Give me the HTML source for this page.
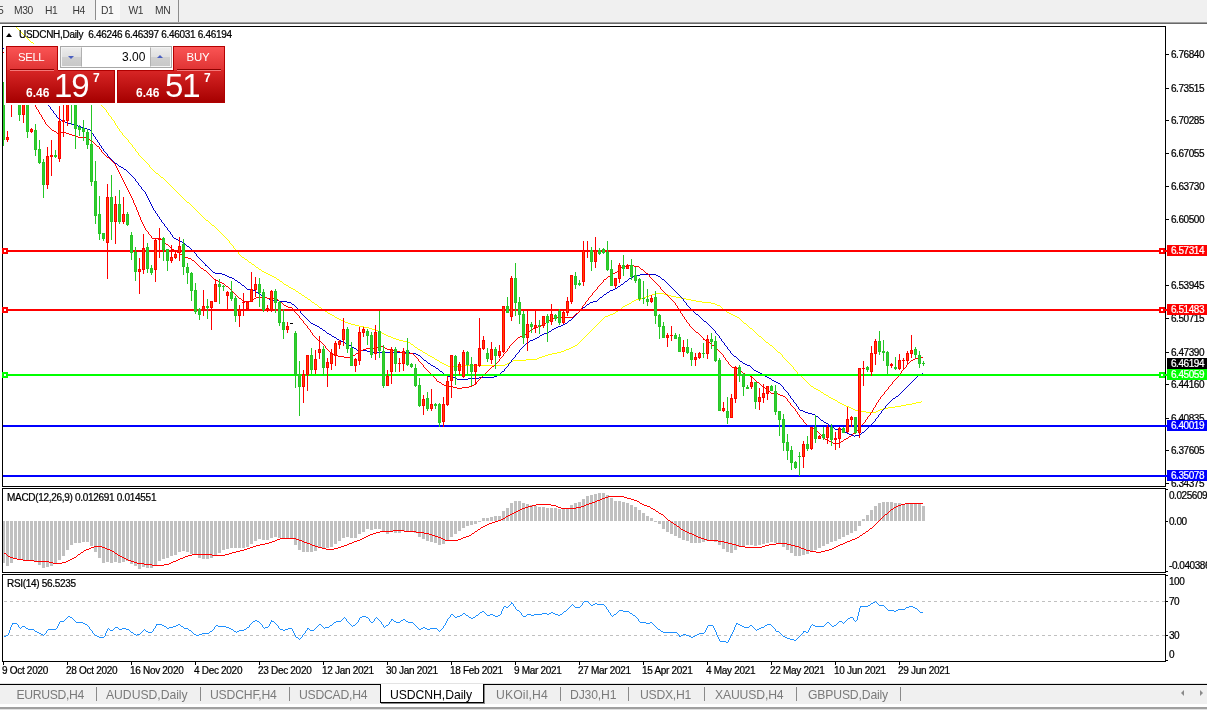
<!DOCTYPE html><html><head><meta charset="utf-8"><title>USDCNH,Daily</title><style>
*{box-sizing:border-box;margin:0;padding:0}
html,body{width:1207px;height:710px;overflow:hidden;background:#fff}
body{position:relative;font-family:"Liberation Sans",sans-serif;font-size:9.5px;color:#000}
.a{position:absolute}
.t{position:absolute;white-space:nowrap;line-height:12px;height:12px}
#tb{left:0;top:0;width:1207px;height:22px;background:#f0f0f0}
#tb .t{font-size:10.3px;letter-spacing:-0.45px;color:#383838;top:4.5px}
.tab{position:absolute;top:687px;height:16px;line-height:16px;font-size:12.2px;letter-spacing:-0.25px;color:#7a7a7a;white-space:nowrap}
.sep{position:absolute;top:687px;width:1px;height:14px;background:#8a8a8a}
.ax{position:absolute;left:1171px;font-size:10px;letter-spacing:-0.45px;line-height:12px;height:12px;white-space:nowrap}
.tick{position:absolute;left:1166px;width:3px;height:1px;background:#000}
.lbl{position:absolute;left:1167px;width:40px;height:11px;color:#fff;font-size:10px;letter-spacing:-0.45px;line-height:11px;padding-left:4px;white-space:nowrap}
.dt{position:absolute;top:665px;font-size:10px;letter-spacing:-0.3px;line-height:12px;white-space:nowrap}
.ax,.dt,.lbl,#ttl,#macdt,#rsit{-webkit-text-stroke:0.22px}
.dtick{position:absolute;top:662px;width:1px;height:3px;background:#000}
</style></head><body>
<div id="tb" class="a">
<div class="a" style="left:96px;top:0;width:24px;height:20px;background:#f8f8f8"></div>
<div class="a" style="left:95px;top:0;width:1px;height:20px;background:#8c8c8c"></div>
<div class="a" style="left:178px;top:0;width:1px;height:22px;background:#8c8c8c"></div>
<span class="t" style="left:-2px">5</span>
<span class="t" style="left:14px">M30</span>
<span class="t" style="left:45px">H1</span>
<span class="t" style="left:72.5px">H4</span>
<span class="t" style="left:101px">D1</span>
<span class="t" style="left:128.5px">W1</span>
<span class="t" style="left:155px">MN</span>
</div>
<div class="a" style="left:0;top:22px;width:1207px;height:1px;background:#a0a0a0"></div>
<div class="a" style="left:0;top:23px;width:1207px;height:1px;background:#696969"></div>
<div class="a" style="left:2px;top:26px;width:1164px;height:461px;border:1px solid #000"></div>
<div class="a" style="left:2px;top:488px;width:1164px;height:85px;border:1px solid #000"></div>
<div class="a" style="left:2px;top:574px;width:1164px;height:88px;border:1px solid #000"></div>
<svg class="a" style="left:0;top:0" width="1207" height="710" viewBox="0 0 1207 710">
<defs><clipPath id="cm"><rect x="3" y="27" width="1162" height="459"/></clipPath><clipPath id="c2"><rect x="3" y="489" width="1162" height="83"/></clipPath><clipPath id="c3"><rect x="3" y="575" width="1162" height="86"/></clipPath></defs>
<g clip-path="url(#cm)">
<path shape-rendering="crispEdges" fill="#ffff00" d="M14 26h1v1h-1zM15 26h1v1h-1zM16 27h1v1h-1zM17 28h1v1h-1zM18 29h1v1h-1zM19 30h1v1h-1zM20 31h1v1h-1zM21 32h1v1h-1zM22 33h1v1h-1zM23 34h1v1h-1zM24 35h1v1h-1zM25 36h1v1h-1zM26 37h1v1h-1zM27 38h1v1h-1zM28 39h1v1h-1zM29 40h1v1h-1zM30 41h1v1h-1zM31 42h1v1h-1zM32 42h1v1h-1zM33 43h1v1h-1zM34 44h1v1h-1zM35 45h1v1h-1zM36 46h1v1h-1zM37 47h1v1h-1zM38 48h1v1h-1zM39 49h1v1h-1zM40 50h1v1h-1zM41 51h1v1h-1zM42 52h1v1h-1zM43 53h1v1h-1zM44 53h1v1h-1zM45 54h1v1h-1zM46 55h1v1h-1zM47 56h1v1h-1zM48 57h1v1h-1zM49 58h1v1h-1zM50 59h1v1h-1zM51 60h1v1h-1zM52 61h1v1h-1zM53 62h1v1h-1zM54 63h1v1h-1zM55 63h1v1h-1zM56 64h1v1h-1zM57 65h1v1h-1zM58 66h1v1h-1zM59 67h1v1h-1zM60 68h1v1h-1zM61 69h1v1h-1zM62 70h1v1h-1zM63 71h1v1h-1zM64 72h1v1h-1zM65 73h1v1h-1zM66 74h1v1h-1zM67 74h1v1h-1zM68 75h1v1h-1zM69 76h1v1h-1zM70 77h1v1h-1zM71 78h1v1h-1zM72 79h1v1h-1zM73 80h1v1h-1zM74 81h1v1h-1zM75 82h1v1h-1zM76 83h1v1h-1zM77 83h1v1h-1zM78 84h1v1h-1zM79 85h1v1h-1zM80 86h1v1h-1zM81 87h1v1h-1zM82 88h1v1h-1zM83 89h1v1h-1zM84 90h1v1h-1zM85 91h1v1h-1zM86 92h1v1h-1zM87 93h1v1h-1zM88 93h1v1h-1zM89 94h1v1h-1zM90 95h1v1h-1zM91 96h1v1h-1zM92 97h1v1h-1zM93 98h1v1h-1zM94 99h1v1h-1zM95 100h1v1h-1zM96 101h1v1h-1zM97 102h1v1h-1zM98 103h1v1h-1zM99 103h1v1h-1zM100 104h1v1h-1zM101 105h1v1h-1zM102 106h1v1h-1zM103 107h1v1h-1zM104 108h1v1h-1zM105 109h1v1h-1zM106 110h1V112h-1zM107 112h1v1h-1zM108 113h1V115h-1zM109 115h1v1h-1zM110 116h1v1h-1zM111 117h1V119h-1zM112 119h1v1h-1zM113 120h1v1h-1zM114 121h1V123h-1zM115 123h1V125h-1zM116 125h1v1h-1zM117 126h1V128h-1zM118 128h1v1h-1zM119 129h1V131h-1zM120 131h1v1h-1zM121 132h1v1h-1zM122 133h1V135h-1zM123 135h1v1h-1zM124 136h1v1h-1zM125 137h1v1h-1zM126 138h1v1h-1zM127 139h1v1h-1zM128 140h1V142h-1zM129 142h1v1h-1zM130 143h1v1h-1zM131 144h1v1h-1zM132 145h1V147h-1zM133 147h1v1h-1zM134 148h1v1h-1zM135 149h1V151h-1zM136 151h1v1h-1zM137 152h1v1h-1zM138 153h1V155h-1zM139 155h1v1h-1zM140 156h1v1h-1zM141 157h1v1h-1zM142 158h1v1h-1zM143 159h1v1h-1zM144 160h1v1h-1zM145 161h1v1h-1zM146 162h1v1h-1zM147 163h1v1h-1zM148 164h1v1h-1zM149 165h1V167h-1zM150 167h1v1h-1zM151 168h1v1h-1zM152 169h1v1h-1zM153 170h1v1h-1zM154 171h1v1h-1zM155 172h1v1h-1zM156 173h1v1h-1zM157 173h1v1h-1zM158 174h1v1h-1zM159 175h1v1h-1zM160 176h1v1h-1zM161 177h1v1h-1zM162 177h1v1h-1zM163 178h1v1h-1zM164 179h1v1h-1zM165 180h1v1h-1zM166 181h1v1h-1zM167 182h1v1h-1zM168 183h1v1h-1zM169 184h1v1h-1zM170 185h1v1h-1zM171 186h1v1h-1zM172 187h1v1h-1zM173 188h1v1h-1zM174 189h1v1h-1zM175 190h1v1h-1zM176 191h1v1h-1zM177 192h1v1h-1zM178 193h1v1h-1zM179 194h1v1h-1zM180 195h1v1h-1zM181 196h1v1h-1zM182 197h1v1h-1zM183 198h1v1h-1zM184 199h1v1h-1zM185 200h1v1h-1zM186 201h1v1h-1zM187 202h1v1h-1zM188 202h1v1h-1zM189 203h1v1h-1zM190 204h1v1h-1zM191 205h1v1h-1zM192 206h1v1h-1zM193 207h1v1h-1zM194 208h1v1h-1zM195 209h1v1h-1zM196 210h1v1h-1zM197 211h1v1h-1zM198 212h1v1h-1zM199 213h1v1h-1zM200 214h1v1h-1zM201 215h1v1h-1zM202 216h1v1h-1zM203 217h1v1h-1zM204 218h1v1h-1zM205 219h1v1h-1zM206 220h1v1h-1zM207 220h1v1h-1zM208 221h1v1h-1zM209 222h1v1h-1zM210 223h1v1h-1zM211 224h1v1h-1zM212 225h1v1h-1zM213 225h1v1h-1zM214 226h1v1h-1zM215 227h1v1h-1zM216 228h1v1h-1zM217 229h1v1h-1zM218 230h1v1h-1zM219 231h1v1h-1zM220 232h1v1h-1zM221 233h1v1h-1zM222 234h1v1h-1zM223 235h1v1h-1zM224 236h1v1h-1zM225 237h1v1h-1zM226 238h1v1h-1zM227 239h1v1h-1zM228 240h1v1h-1zM229 241h1V243h-1zM230 243h1v1h-1zM231 244h1v1h-1zM232 245h1v1h-1zM233 246h1V248h-1zM234 248h1v1h-1zM235 249h1v1h-1zM236 250h1v1h-1zM237 251h1v1h-1zM238 252h1V254h-1zM239 254h1v1h-1zM240 255h1v1h-1zM241 256h1v1h-1zM242 257h1v1h-1zM243 257h1v1h-1zM244 258h1v1h-1zM245 259h1v1h-1zM246 259h1v1h-1zM247 260h1v1h-1zM248 261h1v1h-1zM249 262h1v1h-1zM250 262h1v1h-1zM251 263h1v1h-1zM252 264h1v1h-1zM253 264h1v1h-1zM254 265h1v1h-1zM255 266h1v1h-1zM256 267h1v1h-1zM257 267h1v1h-1zM258 268h1v1h-1zM259 269h1v1h-1zM260 269h1v1h-1zM261 270h1v1h-1zM262 271h1v1h-1zM263 271h1v1h-1zM264 272h1v1h-1zM265 272h1v1h-1zM266 273h1v1h-1zM267 273h1v1h-1zM268 274h1v1h-1zM269 274h1v1h-1zM270 275h1v1h-1zM271 275h1v1h-1zM272 276h1v1h-1zM273 276h1v1h-1zM274 277h1v1h-1zM275 277h1v1h-1zM276 278h1v1h-1zM277 279h1v1h-1zM278 279h1v1h-1zM279 280h1v1h-1zM280 281h1v1h-1zM281 281h1v1h-1zM282 282h1v1h-1zM283 283h1v1h-1zM284 284h1v1h-1zM285 284h1v1h-1zM286 285h1v1h-1zM287 285h1v1h-1zM288 286h1v1h-1zM289 287h1v1h-1zM290 287h1v1h-1zM291 288h1v1h-1zM292 288h1v1h-1zM293 289h1v1h-1zM294 289h1v1h-1zM295 290h1v1h-1zM296 291h1v1h-1zM297 291h1v1h-1zM298 292h1v1h-1zM299 293h1v1h-1zM300 293h1v1h-1zM301 294h1v1h-1zM302 295h1v1h-1zM303 295h1v1h-1zM304 296h1v1h-1zM305 297h1v1h-1zM306 297h1v1h-1zM307 298h1v1h-1zM308 299h1v1h-1zM309 299h1v1h-1zM310 300h1v1h-1zM311 301h1v1h-1zM312 302h1v1h-1zM313 302h1v1h-1zM314 303h1v1h-1zM315 304h1v1h-1zM316 304h1v1h-1zM317 305h1v1h-1zM318 306h1v1h-1zM319 307h1v1h-1zM320 307h1v1h-1zM321 308h1v1h-1zM322 309h1v1h-1zM323 310h1v1h-1zM324 310h1v1h-1zM325 311h1v1h-1zM326 311h1v1h-1zM327 312h1v1h-1zM328 313h1v1h-1zM329 313h1v1h-1zM330 314h1v1h-1zM331 314h1v1h-1zM332 315h1v1h-1zM333 315h1v1h-1zM334 316h1v1h-1zM335 317h1v1h-1zM336 317h1v1h-1zM337 318h1v1h-1zM338 318h1v1h-1zM339 319h1v1h-1zM340 319h1v1h-1zM341 320h1v1h-1zM342 320h1v1h-1zM343 321h1v1h-1zM344 321h1v1h-1zM345 322h1v1h-1zM346 322h1v1h-1zM347 322h1v1h-1zM348 323h1v1h-1zM349 323h1v1h-1zM350 323h1v1h-1zM351 324h1v1h-1zM352 324h1v1h-1zM353 324h1v1h-1zM354 324h1v1h-1zM355 325h1v1h-1zM356 325h1v1h-1zM357 325h1v1h-1zM358 325h1v1h-1zM359 326h1v1h-1zM360 326h1v1h-1zM361 326h1v1h-1zM362 326h1v1h-1zM363 326h1v1h-1zM364 327h1v1h-1zM365 327h1v1h-1zM366 327h1v1h-1zM367 327h1v1h-1zM368 327h1v1h-1zM369 328h1v1h-1zM370 328h1v1h-1zM371 328h1v1h-1zM372 329h1v1h-1zM373 329h1v1h-1zM374 329h1v1h-1zM375 330h1v1h-1zM376 330h1v1h-1zM377 330h1v1h-1zM378 331h1v1h-1zM379 331h1v1h-1zM380 332h1v1h-1zM381 332h1v1h-1zM382 333h1v1h-1zM383 333h1v1h-1zM384 334h1v1h-1zM385 334h1v1h-1zM386 335h1v1h-1zM387 335h1v1h-1zM388 336h1v1h-1zM389 336h1v1h-1zM390 336h1v1h-1zM391 337h1v1h-1zM392 337h1v1h-1zM393 338h1v1h-1zM394 338h1v1h-1zM395 338h1v1h-1zM396 339h1v1h-1zM397 339h1v1h-1zM398 339h1v1h-1zM399 340h1v1h-1zM400 340h1v1h-1zM401 340h1v1h-1zM402 340h1v1h-1zM403 341h1v1h-1zM404 341h1v1h-1zM405 341h1v1h-1zM406 341h1v1h-1zM407 342h1v1h-1zM408 342h1v1h-1zM409 342h1v1h-1zM410 343h1v1h-1zM411 344h1v1h-1zM412 344h1v1h-1zM413 345h1v1h-1zM414 346h1v1h-1zM415 347h1v1h-1zM416 347h1v1h-1zM417 348h1v1h-1zM418 349h1v1h-1zM419 349h1v1h-1zM420 350h1v1h-1zM421 350h1v1h-1zM422 351h1v1h-1zM423 352h1v1h-1zM424 352h1v1h-1zM425 353h1v1h-1zM426 353h1v1h-1zM427 354h1v1h-1zM428 355h1v1h-1zM429 355h1v1h-1zM430 356h1v1h-1zM431 356h1v1h-1zM432 357h1v1h-1zM433 357h1v1h-1zM434 358h1v1h-1zM435 359h1v1h-1zM436 359h1v1h-1zM437 360h1v1h-1zM438 360h1v1h-1zM439 361h1v1h-1zM440 362h1v1h-1zM441 362h1v1h-1zM442 363h1v1h-1zM443 363h1v1h-1zM444 364h1v1h-1zM445 364h1v1h-1zM446 365h1v1h-1zM447 365h1v1h-1zM448 366h1v1h-1zM449 366h1v1h-1zM450 366h1v1h-1zM451 366h1v1h-1zM452 366h1v1h-1zM453 366h1v1h-1zM454 366h1v1h-1zM455 366h1v1h-1zM456 366h1v1h-1zM457 366h1v1h-1zM458 366h1v1h-1zM459 366h1v1h-1zM460 366h1v1h-1zM461 366h1v1h-1zM462 366h1v1h-1zM463 365h1v1h-1zM464 365h1v1h-1zM465 365h1v1h-1zM466 365h1v1h-1zM467 365h1v1h-1zM468 365h1v1h-1zM469 365h1v1h-1zM470 365h1v1h-1zM471 365h1v1h-1zM472 365h1v1h-1zM473 365h1v1h-1zM474 365h1v1h-1zM475 365h1v1h-1zM476 365h1v1h-1zM477 365h1v1h-1zM478 365h1v1h-1zM479 365h1v1h-1zM480 365h1v1h-1zM481 365h1v1h-1zM482 365h1v1h-1zM483 365h1v1h-1zM484 365h1v1h-1zM485 365h1v1h-1zM486 365h1v1h-1zM487 365h1v1h-1zM488 365h1v1h-1zM489 365h1v1h-1zM490 365h1v1h-1zM491 365h1v1h-1zM492 365h1v1h-1zM493 365h1v1h-1zM494 365h1v1h-1zM495 365h1v1h-1zM496 365h1v1h-1zM497 365h1v1h-1zM498 365h1v1h-1zM499 365h1v1h-1zM500 365h1v1h-1zM501 365h1v1h-1zM502 365h1v1h-1zM503 365h1v1h-1zM504 365h1v1h-1zM505 364h1v1h-1zM506 364h1v1h-1zM507 363h1v1h-1zM508 363h1v1h-1zM509 362h1v1h-1zM510 362h1v1h-1zM511 361h1v1h-1zM512 361h1v1h-1zM513 360h1v1h-1zM514 360h1v1h-1zM515 360h1v1h-1zM516 360h1v1h-1zM517 360h1v1h-1zM518 360h1v1h-1zM519 360h1v1h-1zM520 360h1v1h-1zM521 360h1v1h-1zM522 360h1v1h-1zM523 360h1v1h-1zM524 360h1v1h-1zM525 360h1v1h-1zM526 359h1v1h-1zM527 359h1v1h-1zM528 359h1v1h-1zM529 359h1v1h-1zM530 359h1v1h-1zM531 359h1v1h-1zM532 359h1v1h-1zM533 359h1v1h-1zM534 359h1v1h-1zM535 359h1v1h-1zM536 359h1v1h-1zM537 358h1v1h-1zM538 358h1v1h-1zM539 357h1v1h-1zM540 357h1v1h-1zM541 357h1v1h-1zM542 356h1v1h-1zM543 356h1v1h-1zM544 356h1v1h-1zM545 355h1v1h-1zM546 355h1v1h-1zM547 355h1v1h-1zM548 354h1v1h-1zM549 354h1v1h-1zM550 354h1v1h-1zM551 354h1v1h-1zM552 353h1v1h-1zM553 353h1v1h-1zM554 353h1v1h-1zM555 353h1v1h-1zM556 353h1v1h-1zM557 352h1v1h-1zM558 352h1v1h-1zM559 352h1v1h-1zM560 352h1v1h-1zM561 351h1v1h-1zM562 351h1v1h-1zM563 351h1v1h-1zM564 350h1v1h-1zM565 350h1v1h-1zM566 349h1v1h-1zM567 349h1v1h-1zM568 349h1v1h-1zM569 348h1v1h-1zM570 348h1v1h-1zM571 347h1v1h-1zM572 347h1v1h-1zM573 346h1v1h-1zM574 346h1v1h-1zM575 345h1v1h-1zM576 345h1v1h-1zM577 344h1v1h-1zM578 343h1v1h-1zM579 342h1v1h-1zM580 341h1v1h-1zM581 340h1v1h-1zM582 339h1v1h-1zM583 338h1v1h-1zM584 337h1v1h-1zM585 336h1v1h-1zM586 335h1v1h-1zM587 334h1v1h-1zM588 333h1v1h-1zM589 332h1v1h-1zM590 331h1v1h-1zM591 330h1v1h-1zM592 329h1v1h-1zM593 328h1v1h-1zM594 327h1v1h-1zM595 326h1v1h-1zM596 325h1v1h-1zM597 324h1v1h-1zM598 323h1v1h-1zM599 322h1v1h-1zM600 321h1v1h-1zM601 320h1v1h-1zM602 319h1v1h-1zM603 318h1v1h-1zM604 317h1v1h-1zM605 316h1v1h-1zM606 316h1v1h-1zM607 316h1v1h-1zM608 315h1v1h-1zM609 315h1v1h-1zM610 314h1v1h-1zM611 314h1v1h-1zM612 314h1v1h-1zM613 313h1v1h-1zM614 313h1v1h-1zM615 312h1v1h-1zM616 311h1v1h-1zM617 311h1v1h-1zM618 310h1v1h-1zM619 309h1v1h-1zM620 309h1v1h-1zM621 308h1v1h-1zM622 307h1v1h-1zM623 306h1v1h-1zM624 306h1v1h-1zM625 305h1v1h-1zM626 305h1v1h-1zM627 304h1v1h-1zM628 304h1v1h-1zM629 303h1v1h-1zM630 303h1v1h-1zM631 302h1v1h-1zM632 301h1v1h-1zM633 301h1v1h-1zM634 300h1v1h-1zM635 300h1v1h-1zM636 299h1v1h-1zM637 299h1v1h-1zM638 299h1v1h-1zM639 299h1v1h-1zM640 299h1v1h-1zM641 298h1v1h-1zM642 298h1v1h-1zM643 297h1v1h-1zM644 297h1v1h-1zM645 297h1v1h-1zM646 296h1v1h-1zM647 296h1v1h-1zM648 296h1v1h-1zM649 295h1v1h-1zM650 295h1v1h-1zM651 295h1v1h-1zM652 294h1v1h-1zM653 294h1v1h-1zM654 294h1v1h-1zM655 294h1v1h-1zM656 293h1v1h-1zM657 293h1v1h-1zM658 293h1v1h-1zM659 293h1v1h-1zM660 293h1v1h-1zM661 293h1v1h-1zM662 293h1v1h-1zM663 293h1v1h-1zM664 294h1v1h-1zM665 294h1v1h-1zM666 294h1v1h-1zM667 294h1v1h-1zM668 295h1v1h-1zM669 295h1v1h-1zM670 295h1v1h-1zM671 296h1v1h-1zM672 296h1v1h-1zM673 296h1v1h-1zM674 296h1v1h-1zM675 296h1v1h-1zM676 297h1v1h-1zM677 297h1v1h-1zM678 297h1v1h-1zM679 297h1v1h-1zM680 297h1v1h-1zM681 298h1v1h-1zM682 298h1v1h-1zM683 298h1v1h-1zM684 298h1v1h-1zM685 298h1v1h-1zM686 299h1v1h-1zM687 299h1v1h-1zM688 299h1v1h-1zM689 299h1v1h-1zM690 299h1v1h-1zM691 300h1v1h-1zM692 300h1v1h-1zM693 300h1v1h-1zM694 300h1v1h-1zM695 300h1v1h-1zM696 301h1v1h-1zM697 301h1v1h-1zM698 301h1v1h-1zM699 301h1v1h-1zM700 301h1v1h-1zM701 301h1v1h-1zM702 302h1v1h-1zM703 302h1v1h-1zM704 302h1v1h-1zM705 302h1v1h-1zM706 302h1v1h-1zM707 302h1v1h-1zM708 302h1v1h-1zM709 302h1v1h-1zM710 302h1v1h-1zM711 303h1v1h-1zM712 303h1v1h-1zM713 303h1v1h-1zM714 303h1v1h-1zM715 304h1v1h-1zM716 304h1v1h-1zM717 305h1v1h-1zM718 305h1v1h-1zM719 305h1v1h-1zM720 306h1v1h-1zM721 307h1v1h-1zM722 308h1v1h-1zM723 309h1v1h-1zM724 309h1v1h-1zM725 310h1v1h-1zM726 311h1v1h-1zM727 312h1v1h-1zM728 312h1v1h-1zM729 313h1v1h-1zM730 313h1v1h-1zM731 314h1v1h-1zM732 314h1v1h-1zM733 315h1v1h-1zM734 315h1v1h-1zM735 316h1v1h-1zM736 316h1v1h-1zM737 317h1v1h-1zM738 317h1v1h-1zM739 318h1v1h-1zM740 319h1v1h-1zM741 320h1v1h-1zM742 321h1v1h-1zM743 322h1v1h-1zM744 323h1v1h-1zM745 323h1v1h-1zM746 324h1v1h-1zM747 325h1v1h-1zM748 326h1v1h-1zM749 327h1v1h-1zM750 328h1v1h-1zM751 328h1v1h-1zM752 329h1v1h-1zM753 330h1v1h-1zM754 331h1v1h-1zM755 332h1v1h-1zM756 333h1v1h-1zM757 334h1v1h-1zM758 335h1v1h-1zM759 336h1v1h-1zM760 336h1v1h-1zM761 337h1v1h-1zM762 338h1v1h-1zM763 339h1v1h-1zM764 340h1v1h-1zM765 341h1v1h-1zM766 342h1v1h-1zM767 342h1v1h-1zM768 343h1v1h-1zM769 344h1v1h-1zM770 345h1v1h-1zM771 345h1v1h-1zM772 346h1v1h-1zM773 347h1v1h-1zM774 348h1v1h-1zM775 349h1v1h-1zM776 350h1v1h-1zM777 351h1v1h-1zM778 352h1v1h-1zM779 352h1v1h-1zM780 353h1v1h-1zM781 354h1v1h-1zM782 355h1V357h-1zM783 357h1v1h-1zM784 358h1v1h-1zM785 359h1v1h-1zM786 360h1v1h-1zM787 361h1v1h-1zM788 362h1v1h-1zM789 363h1v1h-1zM790 364h1v1h-1zM791 365h1v1h-1zM792 366h1v1h-1zM793 367h1V369h-1zM794 369h1v1h-1zM795 370h1v1h-1zM796 371h1v1h-1zM797 372h1V374h-1zM798 374h1v1h-1zM799 374h1v1h-1zM800 375h1v1h-1zM801 376h1v1h-1zM802 377h1v1h-1zM803 378h1v1h-1zM804 379h1v1h-1zM805 380h1v1h-1zM806 381h1v1h-1zM807 382h1v1h-1zM808 383h1v1h-1zM809 384h1v1h-1zM810 385h1v1h-1zM811 386h1v1h-1zM812 386h1v1h-1zM813 387h1v1h-1zM814 388h1v1h-1zM815 388h1v1h-1zM816 389h1v1h-1zM817 389h1v1h-1zM818 390h1v1h-1zM819 390h1v1h-1zM820 391h1v1h-1zM821 392h1v1h-1zM822 392h1v1h-1zM823 393h1v1h-1zM824 394h1v1h-1zM825 394h1v1h-1zM826 395h1v1h-1zM827 395h1v1h-1zM828 396h1v1h-1zM829 397h1v1h-1zM830 397h1v1h-1zM831 398h1v1h-1zM832 398h1v1h-1zM833 399h1v1h-1zM834 399h1v1h-1zM835 400h1v1h-1zM836 400h1v1h-1zM837 401h1v1h-1zM838 402h1v1h-1zM839 402h1v1h-1zM840 403h1v1h-1zM841 403h1v1h-1zM842 404h1v1h-1zM843 404h1v1h-1zM844 405h1v1h-1zM845 405h1v1h-1zM846 406h1v1h-1zM847 406h1v1h-1zM848 406h1v1h-1zM849 407h1v1h-1zM850 407h1v1h-1zM851 408h1v1h-1zM852 408h1v1h-1zM853 409h1v1h-1zM854 409h1v1h-1zM855 410h1v1h-1zM856 410h1v1h-1zM857 410h1v1h-1zM858 410h1v1h-1zM859 410h1v1h-1zM860 411h1v1h-1zM861 411h1v1h-1zM862 411h1v1h-1zM863 411h1v1h-1zM864 411h1v1h-1zM865 411h1v1h-1zM866 412h1v1h-1zM867 412h1v1h-1zM868 412h1v1h-1zM869 412h1v1h-1zM870 412h1v1h-1zM871 412h1v1h-1zM872 412h1v1h-1zM873 412h1v1h-1zM874 412h1v1h-1zM875 412h1v1h-1zM876 411h1v1h-1zM877 411h1v1h-1zM878 410h1v1h-1zM879 410h1v1h-1zM880 409h1v1h-1zM881 409h1v1h-1zM882 409h1v1h-1zM883 408h1v1h-1zM884 408h1v1h-1zM885 408h1v1h-1zM886 408h1v1h-1zM887 408h1v1h-1zM888 407h1v1h-1zM889 407h1v1h-1zM890 407h1v1h-1zM891 407h1v1h-1zM892 407h1v1h-1zM893 407h1v1h-1zM894 407h1v1h-1zM895 406h1v1h-1zM896 406h1v1h-1zM897 406h1v1h-1zM898 406h1v1h-1zM899 406h1v1h-1zM900 406h1v1h-1zM901 405h1v1h-1zM902 405h1v1h-1zM903 405h1v1h-1zM904 405h1v1h-1zM905 405h1v1h-1zM906 404h1v1h-1zM907 404h1v1h-1zM908 404h1v1h-1zM909 404h1v1h-1zM910 404h1v1h-1zM911 404h1v1h-1zM912 403h1v1h-1zM913 403h1v1h-1zM914 403h1v1h-1zM915 403h1v1h-1zM916 402h1v1h-1zM917 402h1v1h-1zM918 402h1v1h-1zM919 402h1v1h-1zM920 402h1v1h-1zM921 401h1v1h-1z"/>
<path shape-rendering="crispEdges" fill="#0000cd" d="M3 48h1v1h-1zM4 49h1v1h-1zM5 50h1v1h-1zM6 51h1V53h-1zM7 53h1v1h-1zM8 54h1v1h-1zM9 55h1v1h-1zM10 56h1v1h-1zM11 57h1V59h-1zM12 59h1v1h-1zM13 60h1v1h-1zM14 61h1v1h-1zM15 62h1v1h-1zM16 63h1V65h-1zM17 65h1v1h-1zM18 66h1v1h-1zM19 67h1v1h-1zM20 68h1v1h-1zM21 69h1V71h-1zM22 71h1v1h-1zM23 72h1v1h-1zM24 73h1v1h-1zM25 74h1v1h-1zM26 75h1V77h-1zM27 77h1v1h-1zM28 78h1v1h-1zM29 79h1V81h-1zM30 81h1v1h-1zM31 82h1v1h-1zM32 83h1V85h-1zM33 85h1v1h-1zM34 86h1v1h-1zM35 87h1V89h-1zM36 89h1v1h-1zM37 90h1v1h-1zM38 91h1V93h-1zM39 93h1v1h-1zM40 94h1v1h-1zM41 95h1V97h-1zM42 97h1v1h-1zM43 98h1v1h-1zM44 99h1V101h-1zM45 101h1v1h-1zM46 102h1v1h-1zM47 103h1V105h-1zM48 105h1v1h-1zM49 106h1v1h-1zM50 107h1V109h-1zM51 109h1v1h-1zM52 110h1v1h-1zM53 111h1V113h-1zM54 113h1v1h-1zM55 114h1v1h-1zM56 115h1V117h-1zM57 117h1v1h-1zM58 118h1v1h-1zM59 119h1v1h-1zM60 119h1v1h-1zM61 120h1v1h-1zM62 120h1v1h-1zM63 121h1v1h-1zM64 121h1v1h-1zM65 122h1v1h-1zM66 122h1v1h-1zM67 123h1v1h-1zM68 123h1v1h-1zM69 123h1v1h-1zM70 123h1v1h-1zM71 124h1v1h-1zM72 124h1v1h-1zM73 124h1v1h-1zM74 124h1v1h-1zM75 125h1v1h-1zM76 125h1v1h-1zM77 125h1v1h-1zM78 126h1v1h-1zM79 126h1v1h-1zM80 126h1v1h-1zM81 127h1v1h-1zM82 127h1v1h-1zM83 127h1v1h-1zM84 128h1v1h-1zM85 128h1v1h-1zM86 128h1v1h-1zM87 129h1v1h-1zM88 129h1v1h-1zM89 129h1v1h-1zM90 130h1v1h-1zM91 131h1V133h-1zM92 133h1v1h-1zM93 134h1V136h-1zM94 136h1v1h-1zM95 137h1V139h-1zM96 139h1v1h-1zM97 140h1V142h-1zM98 142h1v1h-1zM99 143h1V145h-1zM100 145h1v1h-1zM101 146h1V148h-1zM102 148h1v1h-1zM103 149h1V151h-1zM104 151h1v1h-1zM105 152h1v1h-1zM106 153h1v1h-1zM107 154h1V156h-1zM108 156h1v1h-1zM109 157h1v1h-1zM110 158h1v1h-1zM111 159h1v1h-1zM112 160h1v1h-1zM113 161h1v1h-1zM114 162h1v1h-1zM115 163h1v1h-1zM116 163h1v1h-1zM117 164h1v1h-1zM118 165h1v1h-1zM119 166h1v1h-1zM120 166h1v1h-1zM121 167h1v1h-1zM122 167h1v1h-1zM123 168h1v1h-1zM124 169h1v1h-1zM125 169h1v1h-1zM126 170h1v1h-1zM127 171h1v1h-1zM128 172h1v1h-1zM129 173h1v1h-1zM130 174h1v1h-1zM131 175h1v1h-1zM132 176h1v1h-1zM133 177h1v1h-1zM134 178h1v1h-1zM135 179h1V181h-1zM136 181h1v1h-1zM137 182h1v1h-1zM138 183h1V185h-1zM139 185h1v1h-1zM140 186h1v1h-1zM141 187h1V189h-1zM142 189h1v1h-1zM143 190h1v1h-1zM144 191h1v1h-1zM145 192h1V194h-1zM146 194h1V196h-1zM147 196h1V198h-1zM148 198h1V200h-1zM149 200h1V202h-1zM150 202h1V204h-1zM151 204h1V206h-1zM152 206h1V208h-1zM153 208h1V210h-1zM154 210h1v1h-1zM155 211h1V213h-1zM156 213h1v1h-1zM157 214h1V216h-1zM158 216h1v1h-1zM159 217h1V219h-1zM160 219h1v1h-1zM161 220h1V222h-1zM162 222h1v1h-1zM163 223h1v1h-1zM164 224h1V226h-1zM165 226h1v1h-1zM166 227h1v1h-1zM167 228h1V230h-1zM168 230h1v1h-1zM169 231h1v1h-1zM170 232h1V234h-1zM171 234h1v1h-1zM172 235h1V237h-1zM173 237h1v1h-1zM174 238h1v1h-1zM175 238h1v1h-1zM176 239h1v1h-1zM177 239h1v1h-1zM178 240h1v1h-1zM179 240h1v1h-1zM180 241h1v1h-1zM181 241h1v1h-1zM182 242h1v1h-1zM183 242h1v1h-1zM184 243h1v1h-1zM185 244h1v1h-1zM186 245h1v1h-1zM187 246h1v1h-1zM188 246h1v1h-1zM189 247h1v1h-1zM190 248h1v1h-1zM191 249h1v1h-1zM192 250h1v1h-1zM193 251h1v1h-1zM194 252h1v1h-1zM195 253h1v1h-1zM196 254h1V256h-1zM197 256h1v1h-1zM198 257h1v1h-1zM199 258h1v1h-1zM200 259h1v1h-1zM201 260h1v1h-1zM202 261h1v1h-1zM203 262h1v1h-1zM204 263h1v1h-1zM205 264h1V266h-1zM206 265h1v1h-1zM207 266h1v1h-1zM208 267h1v1h-1zM209 268h1v1h-1zM210 269h1v1h-1zM211 270h1v1h-1zM212 271h1v1h-1zM213 272h1v1h-1zM214 272h1v1h-1zM215 273h1v1h-1zM216 273h1v1h-1zM217 273h1v1h-1zM218 273h1v1h-1zM219 273h1v1h-1zM220 273h1v1h-1zM221 273h1v1h-1zM222 274h1v1h-1zM223 274h1v1h-1zM224 274h1v1h-1zM225 275h1v1h-1zM226 275h1v1h-1zM227 276h1v1h-1zM228 276h1v1h-1zM229 277h1v1h-1zM230 277h1v1h-1zM231 277h1v1h-1zM232 278h1v1h-1zM233 278h1v1h-1zM234 279h1v1h-1zM235 280h1v1h-1zM236 280h1v1h-1zM237 281h1v1h-1zM238 282h1v1h-1zM239 282h1v1h-1zM240 283h1v1h-1zM241 284h1v1h-1zM242 285h1v1h-1zM243 285h1v1h-1zM244 286h1v1h-1zM245 287h1v1h-1zM246 288h1v1h-1zM247 289h1v1h-1zM248 289h1v1h-1zM249 289h1v1h-1zM250 289h1v1h-1zM251 289h1v1h-1zM252 289h1v1h-1zM253 290h1v1h-1zM254 290h1v1h-1zM255 291h1v1h-1zM256 292h1v1h-1zM257 292h1v1h-1zM258 293h1v1h-1zM259 293h1v1h-1zM260 294h1v1h-1zM261 295h1v1h-1zM262 295h1v1h-1zM263 296h1v1h-1zM264 296h1v1h-1zM265 297h1v1h-1zM266 297h1v1h-1zM267 298h1v1h-1zM268 298h1v1h-1zM269 299h1v1h-1zM270 299h1v1h-1zM271 299h1v1h-1zM272 299h1v1h-1zM273 300h1v1h-1zM274 300h1v1h-1zM275 300h1v1h-1zM276 300h1v1h-1zM277 300h1v1h-1zM278 300h1v1h-1zM279 301h1v1h-1zM280 301h1v1h-1zM281 301h1v1h-1zM282 301h1v1h-1zM283 301h1v1h-1zM284 301h1v1h-1zM285 301h1v1h-1zM286 301h1v1h-1zM287 302h1v1h-1zM288 302h1v1h-1zM289 302h1v1h-1zM290 302h1v1h-1zM291 303h1v1h-1zM292 304h1v1h-1zM293 304h1v1h-1zM294 305h1v1h-1zM295 306h1v1h-1zM296 307h1v1h-1zM297 308h1v1h-1zM298 309h1v1h-1zM299 310h1v1h-1zM300 311h1V313h-1zM301 313h1v1h-1zM302 314h1v1h-1zM303 315h1v1h-1zM304 316h1v1h-1zM305 317h1v1h-1zM306 318h1v1h-1zM307 319h1v1h-1zM308 320h1v1h-1zM309 321h1v1h-1zM310 322h1v1h-1zM311 323h1v1h-1zM312 323h1v1h-1zM313 324h1v1h-1zM314 324h1v1h-1zM315 325h1v1h-1zM316 325h1v1h-1zM317 326h1v1h-1zM318 326h1v1h-1zM319 327h1v1h-1zM320 328h1v1h-1zM321 328h1v1h-1zM322 329h1v1h-1zM323 330h1v1h-1zM324 330h1v1h-1zM325 331h1v1h-1zM326 332h1v1h-1zM327 333h1v1h-1zM328 333h1v1h-1zM329 334h1v1h-1zM330 334h1v1h-1zM331 335h1v1h-1zM332 336h1v1h-1zM333 336h1v1h-1zM334 337h1v1h-1zM335 337h1v1h-1zM336 338h1v1h-1zM337 339h1v1h-1zM338 339h1v1h-1zM339 340h1v1h-1zM340 340h1v1h-1zM341 341h1v1h-1zM342 341h1v1h-1zM343 342h1v1h-1zM344 342h1v1h-1zM345 343h1v1h-1zM346 343h1v1h-1zM347 344h1v1h-1zM348 344h1v1h-1zM349 345h1v1h-1zM350 345h1v1h-1zM351 346h1v1h-1zM352 347h1v1h-1zM353 347h1v1h-1zM354 348h1v1h-1zM355 348h1v1h-1zM356 349h1v1h-1zM357 350h1v1h-1zM358 350h1v1h-1zM359 350h1v1h-1zM360 350h1v1h-1zM361 350h1v1h-1zM362 350h1v1h-1zM363 350h1v1h-1zM364 350h1v1h-1zM365 350h1v1h-1zM366 350h1v1h-1zM367 351h1v1h-1zM368 351h1v1h-1zM369 351h1v1h-1zM370 351h1v1h-1zM371 351h1v1h-1zM372 352h1v1h-1zM373 352h1v1h-1zM374 352h1v1h-1zM375 352h1v1h-1zM376 352h1v1h-1zM377 352h1v1h-1zM378 352h1v1h-1zM379 352h1v1h-1zM380 352h1v1h-1zM381 352h1v1h-1zM382 352h1v1h-1zM383 352h1v1h-1zM384 352h1v1h-1zM385 352h1v1h-1zM386 352h1v1h-1zM387 352h1v1h-1zM388 352h1v1h-1zM389 352h1v1h-1zM390 352h1v1h-1zM391 352h1v1h-1zM392 352h1v1h-1zM393 352h1v1h-1zM394 352h1v1h-1zM395 352h1v1h-1zM396 352h1v1h-1zM397 352h1v1h-1zM398 352h1v1h-1zM399 352h1v1h-1zM400 352h1v1h-1zM401 352h1v1h-1zM402 352h1v1h-1zM403 352h1v1h-1zM404 352h1v1h-1zM405 352h1v1h-1zM406 352h1v1h-1zM407 352h1v1h-1zM408 352h1v1h-1zM409 352h1v1h-1zM410 353h1v1h-1zM411 353h1v1h-1zM412 353h1v1h-1zM413 353h1v1h-1zM414 353h1v1h-1zM415 353h1v1h-1zM416 354h1v1h-1zM417 354h1v1h-1zM418 355h1v1h-1zM419 355h1v1h-1zM420 356h1v1h-1zM421 357h1v1h-1zM422 358h1v1h-1zM423 359h1v1h-1zM424 360h1v1h-1zM425 360h1v1h-1zM426 361h1v1h-1zM427 362h1v1h-1zM428 363h1v1h-1zM429 363h1v1h-1zM430 364h1v1h-1zM431 365h1v1h-1zM432 365h1v1h-1zM433 366h1v1h-1zM434 366h1v1h-1zM435 367h1v1h-1zM436 368h1v1h-1zM437 368h1v1h-1zM438 369h1v1h-1zM439 370h1v1h-1zM440 371h1v1h-1zM441 371h1v1h-1zM442 372h1v1h-1zM443 373h1v1h-1zM444 374h1v1h-1zM445 375h1v1h-1zM446 375h1v1h-1zM447 376h1v1h-1zM448 376h1v1h-1zM449 376h1v1h-1zM450 376h1v1h-1zM451 376h1v1h-1zM452 376h1v1h-1zM453 377h1v1h-1zM454 377h1v1h-1zM455 378h1v1h-1zM456 378h1v1h-1zM457 379h1v1h-1zM458 379h1v1h-1zM459 379h1v1h-1zM460 379h1v1h-1zM461 379h1v1h-1zM462 379h1v1h-1zM463 379h1v1h-1zM464 379h1v1h-1zM465 379h1v1h-1zM466 379h1v1h-1zM467 379h1v1h-1zM468 378h1v1h-1zM469 378h1v1h-1zM470 378h1v1h-1zM471 378h1v1h-1zM472 378h1v1h-1zM473 378h1v1h-1zM474 378h1v1h-1zM475 378h1v1h-1zM476 378h1v1h-1zM477 378h1v1h-1zM478 378h1v1h-1zM479 377h1v1h-1zM480 377h1v1h-1zM481 377h1v1h-1zM482 377h1v1h-1zM483 377h1v1h-1zM484 377h1v1h-1zM485 377h1v1h-1zM486 377h1v1h-1zM487 377h1v1h-1zM488 377h1v1h-1zM489 377h1v1h-1zM490 377h1v1h-1zM491 377h1v1h-1zM492 377h1v1h-1zM493 377h1v1h-1zM494 376h1v1h-1zM495 376h1v1h-1zM496 376h1v1h-1zM497 375h1v1h-1zM498 374h1v1h-1zM499 374h1v1h-1zM500 373h1v1h-1zM501 372h1v1h-1zM502 371h1v1h-1zM503 371h1v1h-1zM504 369h1V371h-1zM505 368h1v1h-1zM506 367h1v1h-1zM507 366h1v1h-1zM508 364h1V366h-1zM509 363h1v1h-1zM510 362h1v1h-1zM511 360h1V362h-1zM512 359h1v1h-1zM513 358h1v1h-1zM514 357h1v1h-1zM515 355h1V357h-1zM516 354h1v1h-1zM517 353h1v1h-1zM518 352h1v1h-1zM519 350h1V352h-1zM520 349h1v1h-1zM521 348h1v1h-1zM522 347h1v1h-1zM523 346h1v1h-1zM524 345h1v1h-1zM525 344h1v1h-1zM526 343h1v1h-1zM527 342h1v1h-1zM528 342h1v1h-1zM529 341h1v1h-1zM530 340h1v1h-1zM531 340h1v1h-1zM532 340h1v1h-1zM533 339h1v1h-1zM534 339h1v1h-1zM535 338h1v1h-1zM536 338h1v1h-1zM537 337h1v1h-1zM538 337h1v1h-1zM539 336h1v1h-1zM540 335h1v1h-1zM541 335h1v1h-1zM542 334h1v1h-1zM543 334h1v1h-1zM544 333h1v1h-1zM545 333h1v1h-1zM546 333h1v1h-1zM547 332h1v1h-1zM548 332h1v1h-1zM549 331h1v1h-1zM550 331h1v1h-1zM551 330h1v1h-1zM552 329h1v1h-1zM553 329h1v1h-1zM554 328h1v1h-1zM555 328h1v1h-1zM556 327h1v1h-1zM557 327h1v1h-1zM558 326h1v1h-1zM559 326h1v1h-1zM560 326h1v1h-1zM561 325h1v1h-1zM562 325h1v1h-1zM563 324h1v1h-1zM564 324h1v1h-1zM565 323h1v1h-1zM566 323h1v1h-1zM567 322h1v1h-1zM568 321h1v1h-1zM569 320h1v1h-1zM570 320h1v1h-1zM571 319h1v1h-1zM572 318h1v1h-1zM573 317h1v1h-1zM574 316h1v1h-1zM575 315h1v1h-1zM576 314h1v1h-1zM577 313h1v1h-1zM578 312h1v1h-1zM579 311h1v1h-1zM580 310h1v1h-1zM581 309h1v1h-1zM582 308h1v1h-1zM583 307h1v1h-1zM584 307h1v1h-1zM585 306h1v1h-1zM586 305h1v1h-1zM587 304h1v1h-1zM588 304h1v1h-1zM589 303h1v1h-1zM590 302h1v1h-1zM591 302h1v1h-1zM592 302h1v1h-1zM593 301h1v1h-1zM594 301h1v1h-1zM595 301h1v1h-1zM596 301h1v1h-1zM597 300h1v1h-1zM598 299h1v1h-1zM599 298h1v1h-1zM600 297h1v1h-1zM601 297h1v1h-1zM602 296h1v1h-1zM603 295h1v1h-1zM604 294h1v1h-1zM605 294h1v1h-1zM606 293h1v1h-1zM607 292h1v1h-1zM608 292h1v1h-1zM609 291h1v1h-1zM610 290h1v1h-1zM611 290h1v1h-1zM612 290h1v1h-1zM613 289h1v1h-1zM614 289h1v1h-1zM615 288h1v1h-1zM616 288h1v1h-1zM617 287h1v1h-1zM618 286h1v1h-1zM619 286h1v1h-1zM620 285h1v1h-1zM621 284h1v1h-1zM622 284h1v1h-1zM623 283h1v1h-1zM624 282h1v1h-1zM625 281h1v1h-1zM626 281h1v1h-1zM627 280h1v1h-1zM628 279h1v1h-1zM629 278h1v1h-1zM630 278h1v1h-1zM631 277h1v1h-1zM632 277h1v1h-1zM633 276h1v1h-1zM634 276h1v1h-1zM635 276h1v1h-1zM636 275h1v1h-1zM637 275h1v1h-1zM638 275h1v1h-1zM639 275h1v1h-1zM640 274h1v1h-1zM641 274h1v1h-1zM642 274h1v1h-1zM643 274h1v1h-1zM644 274h1v1h-1zM645 274h1v1h-1zM646 274h1v1h-1zM647 274h1v1h-1zM648 274h1v1h-1zM649 274h1v1h-1zM650 274h1v1h-1zM651 274h1v1h-1zM652 274h1v1h-1zM653 274h1v1h-1zM654 274h1v1h-1zM655 274h1v1h-1zM656 275h1v1h-1zM657 275h1v1h-1zM658 276h1v1h-1zM659 276h1v1h-1zM660 277h1v1h-1zM661 278h1v1h-1zM662 279h1v1h-1zM663 279h1v1h-1zM664 280h1v1h-1zM665 281h1v1h-1zM666 282h1v1h-1zM667 283h1v1h-1zM668 284h1v1h-1zM669 285h1v1h-1zM670 286h1v1h-1zM671 287h1v1h-1zM672 288h1v1h-1zM673 289h1v1h-1zM674 290h1v1h-1zM675 291h1v1h-1zM676 292h1v1h-1zM677 293h1v1h-1zM678 294h1v1h-1zM679 295h1v1h-1zM680 296h1v1h-1zM681 297h1v1h-1zM682 298h1v1h-1zM683 299h1V301h-1zM684 301h1v1h-1zM685 302h1v1h-1zM686 303h1V305h-1zM687 305h1v1h-1zM688 306h1v1h-1zM689 307h1v1h-1zM690 308h1v1h-1zM691 309h1v1h-1zM692 310h1v1h-1zM693 311h1v1h-1zM694 312h1v1h-1zM695 313h1v1h-1zM696 314h1v1h-1zM697 314h1v1h-1zM698 315h1v1h-1zM699 316h1v1h-1zM700 317h1v1h-1zM701 318h1v1h-1zM702 319h1v1h-1zM703 320h1v1h-1zM704 321h1v1h-1zM705 321h1v1h-1zM706 322h1v1h-1zM707 323h1v1h-1zM708 324h1v1h-1zM709 325h1v1h-1zM710 326h1v1h-1zM711 327h1v1h-1zM712 328h1v1h-1zM713 329h1v1h-1zM714 330h1v1h-1zM715 331h1V333h-1zM716 333h1v1h-1zM717 334h1v1h-1zM718 335h1v1h-1zM719 336h1V338h-1zM720 338h1v1h-1zM721 339h1V341h-1zM722 341h1v1h-1zM723 342h1v1h-1zM724 343h1V345h-1zM725 345h1v1h-1zM726 346h1v1h-1zM727 347h1V349h-1zM728 349h1v1h-1zM729 350h1v1h-1zM730 351h1V353h-1zM731 353h1v1h-1zM732 354h1v1h-1zM733 355h1v1h-1zM734 356h1v1h-1zM735 356h1v1h-1zM736 357h1v1h-1zM737 358h1v1h-1zM738 359h1v1h-1zM739 360h1v1h-1zM740 361h1v1h-1zM741 361h1v1h-1zM742 362h1v1h-1zM743 363h1v1h-1zM744 363h1v1h-1zM745 364h1v1h-1zM746 364h1v1h-1zM747 365h1v1h-1zM748 365h1v1h-1zM749 365h1v1h-1zM750 366h1v1h-1zM751 367h1v1h-1zM752 368h1v1h-1zM753 369h1v1h-1zM754 370h1v1h-1zM755 370h1v1h-1zM756 371h1v1h-1zM757 371h1v1h-1zM758 372h1v1h-1zM759 372h1v1h-1zM760 373h1v1h-1zM761 373h1v1h-1zM762 374h1v1h-1zM763 375h1v1h-1zM764 375h1v1h-1zM765 376h1v1h-1zM766 376h1v1h-1zM767 377h1v1h-1zM768 377h1v1h-1zM769 378h1v1h-1zM770 378h1v1h-1zM771 379h1v1h-1zM772 380h1v1h-1zM773 380h1v1h-1zM774 381h1v1h-1zM775 381h1v1h-1zM776 382h1v1h-1zM777 382h1v1h-1zM778 383h1v1h-1zM779 383h1v1h-1zM780 384h1v1h-1zM781 385h1v1h-1zM782 386h1v1h-1zM783 387h1V389h-1zM784 389h1v1h-1zM785 390h1v1h-1zM786 391h1v1h-1zM787 392h1v1h-1zM788 393h1V395h-1zM789 395h1v1h-1zM790 396h1V398h-1zM791 398h1v1h-1zM792 399h1v1h-1zM793 400h1V402h-1zM794 402h1v1h-1zM795 403h1v1h-1zM796 404h1V406h-1zM797 406h1v1h-1zM798 407h1V409h-1zM799 409h1v1h-1zM800 410h1v1h-1zM801 410h1v1h-1zM802 410h1v1h-1zM803 411h1v1h-1zM804 411h1v1h-1zM805 412h1v1h-1zM806 412h1v1h-1zM807 412h1v1h-1zM808 413h1v1h-1zM809 413h1v1h-1zM810 413h1v1h-1zM811 413h1v1h-1zM812 414h1v1h-1zM813 414h1v1h-1zM814 414h1v1h-1zM815 415h1v1h-1zM816 416h1v1h-1zM817 416h1v1h-1zM818 417h1v1h-1zM819 418h1v1h-1zM820 419h1v1h-1zM821 420h1v1h-1zM822 420h1v1h-1zM823 421h1v1h-1zM824 422h1v1h-1zM825 422h1v1h-1zM826 423h1v1h-1zM827 423h1v1h-1zM828 424h1v1h-1zM829 425h1v1h-1zM830 425h1v1h-1zM831 426h1v1h-1zM832 427h1v1h-1zM833 427h1v1h-1zM834 428h1v1h-1zM835 429h1v1h-1zM836 429h1v1h-1zM837 429h1v1h-1zM838 429h1v1h-1zM839 429h1v1h-1zM840 429h1v1h-1zM841 429h1v1h-1zM842 430h1v1h-1zM843 430h1v1h-1zM844 431h1v1h-1zM845 432h1v1h-1zM846 432h1v1h-1zM847 433h1v1h-1zM848 433h1v1h-1zM849 434h1v1h-1zM850 434h1v1h-1zM851 434h1v1h-1zM852 435h1v1h-1zM853 435h1v1h-1zM854 436h1v1h-1zM855 435h1v1h-1zM856 435h1v1h-1zM857 435h1v1h-1zM858 435h1v1h-1zM859 434h1v1h-1zM860 434h1v1h-1zM861 433h1v1h-1zM862 432h1v1h-1zM863 432h1v1h-1zM864 431h1v1h-1zM865 430h1v1h-1zM866 429h1v1h-1zM867 428h1v1h-1zM868 427h1v1h-1zM869 426h1v1h-1zM870 425h1v1h-1zM871 424h1v1h-1zM872 423h1v1h-1zM873 422h1v1h-1zM874 421h1v1h-1zM875 419h1V421h-1zM876 418h1v1h-1zM877 417h1v1h-1zM878 415h1V417h-1zM879 414h1v1h-1zM880 413h1v1h-1zM881 411h1V413h-1zM882 410h1v1h-1zM883 409h1v1h-1zM884 408h1v1h-1zM885 406h1V408h-1zM886 405h1v1h-1zM887 404h1v1h-1zM888 403h1v1h-1zM889 402h1v1h-1zM890 401h1v1h-1zM891 400h1v1h-1zM892 399h1v1h-1zM893 398h1v1h-1zM894 398h1v1h-1zM895 397h1v1h-1zM896 396h1v1h-1zM897 396h1v1h-1zM898 395h1v1h-1zM899 394h1v1h-1zM900 393h1v1h-1zM901 392h1v1h-1zM902 391h1v1h-1zM903 390h1v1h-1zM904 389h1v1h-1zM905 388h1v1h-1zM906 387h1v1h-1zM907 386h1v1h-1zM908 385h1v1h-1zM909 384h1v1h-1zM910 383h1v1h-1zM911 382h1v1h-1zM912 381h1v1h-1zM913 380h1v1h-1zM914 379h1v1h-1zM915 378h1v1h-1zM916 377h1v1h-1zM917 376h1v1h-1zM918 375h1v1h-1zM919 375h1v1h-1zM920 374h1v1h-1zM921 374h1v1h-1zM922 373h1v1h-1z"/>
<path shape-rendering="crispEdges" fill="#ff0000" d="M3 52h1v1h-1zM4 53h1V55h-1zM5 55h1V57h-1zM6 57h1V59h-1zM7 59h1v1h-1zM8 60h1V62h-1zM9 62h1v1h-1zM10 63h1V65h-1zM11 65h1V67h-1zM12 67h1V69h-1zM13 69h1v1h-1zM14 70h1V72h-1zM15 72h1v1h-1zM16 73h1V75h-1zM17 75h1V77h-1zM18 77h1V79h-1zM19 79h1v1h-1zM20 80h1V82h-1zM21 82h1V84h-1zM22 84h1v1h-1zM23 85h1V87h-1zM24 87h1V89h-1zM25 89h1v1h-1zM26 90h1V92h-1zM27 92h1V94h-1zM28 94h1v1h-1zM29 95h1V97h-1zM30 97h1V99h-1zM31 99h1v1h-1zM32 100h1V102h-1zM33 102h1V104h-1zM34 104h1v1h-1zM35 105h1V107h-1zM36 107h1V109h-1zM37 109h1v1h-1zM38 110h1V112h-1zM39 112h1V114h-1zM40 114h1v1h-1zM41 115h1V117h-1zM42 117h1V119h-1zM43 119h1v1h-1zM44 120h1V122h-1zM45 122h1V124h-1zM46 124h1v1h-1zM47 125h1v1h-1zM48 126h1v1h-1zM49 127h1v1h-1zM50 128h1v1h-1zM51 129h1v1h-1zM52 130h1v1h-1zM53 130h1v1h-1zM54 131h1v1h-1zM55 131h1v1h-1zM56 132h1v1h-1zM57 133h1v1h-1zM58 133h1v1h-1zM59 133h1v1h-1zM60 133h1v1h-1zM61 132h1v1h-1zM62 132h1v1h-1zM63 132h1v1h-1zM64 132h1v1h-1zM65 132h1v1h-1zM66 133h1v1h-1zM67 133h1v1h-1zM68 133h1v1h-1zM69 134h1v1h-1zM70 134h1v1h-1zM71 134h1v1h-1zM72 135h1v1h-1zM73 135h1v1h-1zM74 135h1v1h-1zM75 136h1v1h-1zM76 136h1v1h-1zM77 136h1v1h-1zM78 137h1v1h-1zM79 137h1v1h-1zM80 137h1v1h-1zM81 137h1v1h-1zM82 137h1v1h-1zM83 137h1v1h-1zM84 137h1v1h-1zM85 137h1v1h-1zM86 137h1v1h-1zM87 138h1v1h-1zM88 138h1v1h-1zM89 139h1v1h-1zM90 140h1v1h-1zM91 141h1v1h-1zM92 141h1v1h-1zM93 142h1v1h-1zM94 143h1v1h-1zM95 144h1v1h-1zM96 145h1v1h-1zM97 146h1v1h-1zM98 146h1v1h-1zM99 147h1V149h-1zM100 149h1v1h-1zM101 150h1V152h-1zM102 152h1v1h-1zM103 153h1v1h-1zM104 154h1v1h-1zM105 155h1v1h-1zM106 156h1v1h-1zM107 157h1v1h-1zM108 157h1v1h-1zM109 158h1v1h-1zM110 159h1v1h-1zM111 160h1v1h-1zM112 161h1v1h-1zM113 162h1v1h-1zM114 163h1v1h-1zM115 164h1V166h-1zM116 166h1V168h-1zM117 168h1V170h-1zM118 170h1V172h-1zM119 172h1V174h-1zM120 174h1V176h-1zM121 176h1V178h-1zM122 178h1V180h-1zM123 180h1V182h-1zM124 182h1V184h-1zM125 184h1V186h-1zM126 186h1V188h-1zM127 188h1V190h-1zM128 190h1V192h-1zM129 192h1V194h-1zM130 194h1V196h-1zM131 196h1V198h-1zM132 198h1V200h-1zM133 200h1V203h-1zM134 203h1V205h-1zM135 205h1V207h-1zM136 207h1V210h-1zM137 210h1V212h-1zM138 212h1V215h-1zM139 215h1V217h-1zM140 217h1V220h-1zM141 220h1V222h-1zM142 222h1V224h-1zM143 224h1V226h-1zM144 226h1V228h-1zM145 228h1V230h-1zM146 230h1v1h-1zM147 231h1v1h-1zM148 232h1V234h-1zM149 234h1v1h-1zM150 235h1v1h-1zM151 236h1V238h-1zM152 238h1v1h-1zM153 238h1v1h-1zM154 238h1v1h-1zM155 238h1v1h-1zM156 238h1v1h-1zM157 238h1v1h-1zM158 238h1v1h-1zM159 238h1v1h-1zM160 238h1v1h-1zM161 239h1v1h-1zM162 240h1v1h-1zM163 241h1v1h-1zM164 242h1v1h-1zM165 243h1v1h-1zM166 244h1v1h-1zM167 244h1v1h-1zM168 245h1v1h-1zM169 246h1v1h-1zM170 247h1v1h-1zM171 248h1v1h-1zM172 249h1v1h-1zM173 249h1v1h-1zM174 250h1v1h-1zM175 251h1v1h-1zM176 251h1v1h-1zM177 252h1v1h-1zM178 252h1v1h-1zM179 253h1v1h-1zM180 254h1v1h-1zM181 254h1v1h-1zM182 255h1v1h-1zM183 256h1v1h-1zM184 256h1v1h-1zM185 257h1v1h-1zM186 257h1v1h-1zM187 257h1v1h-1zM188 258h1v1h-1zM189 258h1v1h-1zM190 258h1v1h-1zM191 259h1v1h-1zM192 260h1v1h-1zM193 260h1v1h-1zM194 261h1v1h-1zM195 262h1v1h-1zM196 263h1v1h-1zM197 264h1v1h-1zM198 265h1v1h-1zM199 266h1v1h-1zM200 267h1v1h-1zM201 268h1v1h-1zM202 268h1v1h-1zM203 269h1v1h-1zM204 270h1v1h-1zM205 270h1v1h-1zM206 271h1v1h-1zM207 272h1v1h-1zM208 273h1v1h-1zM209 274h1v1h-1zM210 275h1v1h-1zM211 276h1v1h-1zM212 277h1v1h-1zM213 278h1v1h-1zM214 279h1v1h-1zM215 279h1v1h-1zM216 280h1v1h-1zM217 280h1v1h-1zM218 281h1v1h-1zM219 281h1v1h-1zM220 282h1v1h-1zM221 282h1v1h-1zM222 283h1v1h-1zM223 283h1v1h-1zM224 284h1v1h-1zM225 285h1v1h-1zM226 286h1v1h-1zM227 286h1v1h-1zM228 287h1v1h-1zM229 288h1v1h-1zM230 289h1v1h-1zM231 290h1v1h-1zM232 291h1v1h-1zM233 292h1v1h-1zM234 293h1v1h-1zM235 294h1v1h-1zM236 295h1v1h-1zM237 296h1v1h-1zM238 297h1v1h-1zM239 298h1v1h-1zM240 298h1v1h-1zM241 299h1v1h-1zM242 300h1v1h-1zM243 300h1v1h-1zM244 301h1v1h-1zM245 301h1v1h-1zM246 301h1v1h-1zM247 301h1v1h-1zM248 301h1v1h-1zM249 301h1v1h-1zM250 301h1v1h-1zM251 300h1v1h-1zM252 299h1v1h-1zM253 299h1v1h-1zM254 298h1v1h-1zM255 298h1v1h-1zM256 297h1v1h-1zM257 297h1v1h-1zM258 297h1v1h-1zM259 297h1v1h-1zM260 297h1v1h-1zM261 297h1v1h-1zM262 297h1v1h-1zM263 297h1v1h-1zM264 297h1v1h-1zM265 297h1v1h-1zM266 297h1v1h-1zM267 298h1v1h-1zM268 298h1v1h-1zM269 298h1v1h-1zM270 298h1v1h-1zM271 298h1v1h-1zM272 298h1v1h-1zM273 298h1v1h-1zM274 298h1v1h-1zM275 298h1v1h-1zM276 299h1v1h-1zM277 299h1v1h-1zM278 300h1v1h-1zM279 301h1v1h-1zM280 302h1v1h-1zM281 302h1v1h-1zM282 303h1v1h-1zM283 304h1v1h-1zM284 305h1v1h-1zM285 305h1v1h-1zM286 306h1v1h-1zM287 306h1v1h-1zM288 307h1v1h-1zM289 307h1v1h-1zM290 307h1v1h-1zM291 307h1v1h-1zM292 308h1v1h-1zM293 309h1V311h-1zM294 311h1v1h-1zM295 312h1v1h-1zM296 313h1v1h-1zM297 314h1v1h-1zM298 315h1v1h-1zM299 316h1V318h-1zM300 318h1v1h-1zM301 319h1v1h-1zM302 320h1v1h-1zM303 321h1V323h-1zM304 323h1v1h-1zM305 324h1v1h-1zM306 325h1v1h-1zM307 326h1V328h-1zM308 328h1v1h-1zM309 329h1v1h-1zM310 330h1V332h-1zM311 332h1v1h-1zM312 333h1V335h-1zM313 335h1v1h-1zM314 336h1v1h-1zM315 337h1v1h-1zM316 338h1v1h-1zM317 339h1v1h-1zM318 340h1v1h-1zM319 341h1v1h-1zM320 341h1v1h-1zM321 342h1v1h-1zM322 343h1v1h-1zM323 344h1v1h-1zM324 345h1v1h-1zM325 346h1V348h-1zM326 348h1v1h-1zM327 349h1v1h-1zM328 350h1v1h-1zM329 351h1v1h-1zM330 352h1v1h-1zM331 353h1v1h-1zM332 353h1v1h-1zM333 354h1v1h-1zM334 354h1v1h-1zM335 355h1v1h-1zM336 355h1v1h-1zM337 355h1v1h-1zM338 356h1v1h-1zM339 356h1v1h-1zM340 356h1v1h-1zM341 356h1v1h-1zM342 356h1v1h-1zM343 356h1v1h-1zM344 357h1v1h-1zM345 357h1v1h-1zM346 357h1v1h-1zM347 357h1v1h-1zM348 357h1v1h-1zM349 357h1v1h-1zM350 356h1v1h-1zM351 356h1v1h-1zM352 356h1v1h-1zM353 355h1v1h-1zM354 355h1v1h-1zM355 354h1v1h-1zM356 353h1v1h-1zM357 353h1v1h-1zM358 352h1v1h-1zM359 352h1v1h-1zM360 351h1v1h-1zM361 350h1v1h-1zM362 350h1v1h-1zM363 349h1v1h-1zM364 349h1v1h-1zM365 349h1v1h-1zM366 348h1v1h-1zM367 348h1v1h-1zM368 348h1v1h-1zM369 348h1v1h-1zM370 348h1v1h-1zM371 348h1v1h-1zM372 348h1v1h-1zM373 348h1v1h-1zM374 348h1v1h-1zM375 347h1v1h-1zM376 347h1v1h-1zM377 347h1v1h-1zM378 347h1v1h-1zM379 346h1v1h-1zM380 346h1v1h-1zM381 346h1v1h-1zM382 346h1v1h-1zM383 347h1v1h-1zM384 347h1v1h-1zM385 348h1v1h-1zM386 348h1v1h-1zM387 349h1v1h-1zM388 349h1v1h-1zM389 349h1v1h-1zM390 349h1v1h-1zM391 350h1v1h-1zM392 350h1v1h-1zM393 350h1v1h-1zM394 350h1v1h-1zM395 350h1v1h-1zM396 351h1v1h-1zM397 351h1v1h-1zM398 351h1v1h-1zM399 351h1v1h-1zM400 352h1v1h-1zM401 352h1v1h-1zM402 352h1v1h-1zM403 352h1v1h-1zM404 352h1v1h-1zM405 353h1v1h-1zM406 353h1v1h-1zM407 353h1v1h-1zM408 353h1v1h-1zM409 353h1v1h-1zM410 353h1v1h-1zM411 353h1v1h-1zM412 353h1v1h-1zM413 354h1v1h-1zM414 355h1v1h-1zM415 356h1v1h-1zM416 357h1v1h-1zM417 358h1v1h-1zM418 359h1V361h-1zM419 361h1v1h-1zM420 362h1v1h-1zM421 363h1v1h-1zM422 364h1v1h-1zM423 365h1V367h-1zM424 367h1v1h-1zM425 368h1v1h-1zM426 369h1v1h-1zM427 370h1v1h-1zM428 371h1v1h-1zM429 372h1v1h-1zM430 373h1v1h-1zM431 374h1v1h-1zM432 375h1v1h-1zM433 376h1v1h-1zM434 377h1v1h-1zM435 378h1v1h-1zM436 379h1V381h-1zM437 381h1v1h-1zM438 381h1v1h-1zM439 382h1v1h-1zM440 382h1v1h-1zM441 383h1v1h-1zM442 384h1v1h-1zM443 384h1v1h-1zM444 385h1v1h-1zM445 385h1v1h-1zM446 386h1v1h-1zM447 386h1v1h-1zM448 386h1v1h-1zM449 386h1v1h-1zM450 386h1v1h-1zM451 386h1v1h-1zM452 386h1v1h-1zM453 387h1v1h-1zM454 387h1v1h-1zM455 387h1v1h-1zM456 387h1v1h-1zM457 388h1v1h-1zM458 388h1v1h-1zM459 388h1v1h-1zM460 388h1v1h-1zM461 388h1v1h-1zM462 387h1v1h-1zM463 387h1v1h-1zM464 387h1v1h-1zM465 387h1v1h-1zM466 387h1v1h-1zM467 387h1v1h-1zM468 387h1v1h-1zM469 386h1v1h-1zM470 386h1v1h-1zM471 386h1v1h-1zM472 385h1v1h-1zM473 385h1v1h-1zM474 384h1v1h-1zM475 384h1v1h-1zM476 382h1V384h-1zM477 381h1v1h-1zM478 380h1v1h-1zM479 379h1v1h-1zM480 378h1v1h-1zM481 377h1v1h-1zM482 376h1v1h-1zM483 375h1v1h-1zM484 374h1v1h-1zM485 373h1v1h-1zM486 372h1v1h-1zM487 371h1v1h-1zM488 370h1v1h-1zM489 369h1v1h-1zM490 368h1v1h-1zM491 367h1v1h-1zM492 366h1v1h-1zM493 366h1v1h-1zM494 365h1v1h-1zM495 364h1v1h-1zM496 363h1v1h-1zM497 362h1v1h-1zM498 361h1v1h-1zM499 359h1V361h-1zM500 358h1v1h-1zM501 357h1v1h-1zM502 356h1v1h-1zM503 354h1V356h-1zM504 353h1v1h-1zM505 352h1v1h-1zM506 351h1v1h-1zM507 349h1V351h-1zM508 348h1v1h-1zM509 346h1V348h-1zM510 345h1v1h-1zM511 344h1v1h-1zM512 343h1v1h-1zM513 342h1v1h-1zM514 341h1v1h-1zM515 340h1v1h-1zM516 339h1v1h-1zM517 338h1v1h-1zM518 337h1v1h-1zM519 337h1v1h-1zM520 336h1v1h-1zM521 336h1v1h-1zM522 335h1v1h-1zM523 335h1v1h-1zM524 334h1v1h-1zM525 334h1v1h-1zM526 333h1v1h-1zM527 332h1v1h-1zM528 332h1v1h-1zM529 331h1v1h-1zM530 330h1v1h-1zM531 329h1v1h-1zM532 329h1v1h-1zM533 328h1v1h-1zM534 328h1v1h-1zM535 327h1v1h-1zM536 327h1v1h-1zM537 327h1v1h-1zM538 326h1v1h-1zM539 326h1v1h-1zM540 326h1v1h-1zM541 325h1v1h-1zM542 325h1v1h-1zM543 324h1v1h-1zM544 324h1v1h-1zM545 323h1v1h-1zM546 322h1v1h-1zM547 322h1v1h-1zM548 321h1v1h-1zM549 320h1v1h-1zM550 320h1v1h-1zM551 319h1v1h-1zM552 319h1v1h-1zM553 318h1v1h-1zM554 318h1v1h-1zM555 318h1v1h-1zM556 317h1v1h-1zM557 317h1v1h-1zM558 317h1v1h-1zM559 317h1v1h-1zM560 317h1v1h-1zM561 317h1v1h-1zM562 317h1v1h-1zM563 317h1v1h-1zM564 317h1v1h-1zM565 317h1v1h-1zM566 317h1v1h-1zM567 317h1v1h-1zM568 317h1v1h-1zM569 317h1v1h-1zM570 317h1v1h-1zM571 317h1v1h-1zM572 317h1v1h-1zM573 316h1v1h-1zM574 315h1v1h-1zM575 314h1v1h-1zM576 313h1v1h-1zM577 313h1v1h-1zM578 312h1v1h-1zM579 310h1V312h-1zM580 309h1v1h-1zM581 308h1v1h-1zM582 306h1V308h-1zM583 305h1v1h-1zM584 304h1v1h-1zM585 302h1V304h-1zM586 301h1v1h-1zM587 300h1v1h-1zM588 298h1V300h-1zM589 297h1v1h-1zM590 296h1v1h-1zM591 295h1v1h-1zM592 293h1V295h-1zM593 292h1v1h-1zM594 291h1v1h-1zM595 290h1v1h-1zM596 289h1v1h-1zM597 287h1V289h-1zM598 286h1v1h-1zM599 285h1v1h-1zM600 284h1v1h-1zM601 283h1v1h-1zM602 282h1v1h-1zM603 280h1V282h-1zM604 279h1v1h-1zM605 279h1v1h-1zM606 278h1v1h-1zM607 277h1v1h-1zM608 276h1v1h-1zM609 276h1v1h-1zM610 275h1v1h-1zM611 274h1v1h-1zM612 274h1v1h-1zM613 273h1v1h-1zM614 273h1v1h-1zM615 272h1v1h-1zM616 272h1v1h-1zM617 271h1v1h-1zM618 270h1v1h-1zM619 269h1v1h-1zM620 268h1v1h-1zM621 267h1v1h-1zM622 267h1v1h-1zM623 266h1v1h-1zM624 266h1v1h-1zM625 266h1v1h-1zM626 265h1v1h-1zM627 265h1v1h-1zM628 265h1v1h-1zM629 265h1v1h-1zM630 265h1v1h-1zM631 265h1v1h-1zM632 265h1v1h-1zM633 265h1v1h-1zM634 266h1v1h-1zM635 266h1v1h-1zM636 266h1v1h-1zM637 266h1v1h-1zM638 266h1v1h-1zM639 267h1v1h-1zM640 268h1v1h-1zM641 269h1v1h-1zM642 269h1v1h-1zM643 270h1v1h-1zM644 271h1v1h-1zM645 272h1v1h-1zM646 273h1v1h-1zM647 273h1v1h-1zM648 274h1v1h-1zM649 275h1V277h-1zM650 277h1v1h-1zM651 278h1v1h-1zM652 279h1v1h-1zM653 280h1v1h-1zM654 281h1v1h-1zM655 282h1v1h-1zM656 283h1v1h-1zM657 284h1v1h-1zM658 285h1v1h-1zM659 286h1v1h-1zM660 287h1V289h-1zM661 289h1v1h-1zM662 290h1v1h-1zM663 291h1v1h-1zM664 292h1v1h-1zM665 293h1v1h-1zM666 294h1v1h-1zM667 295h1v1h-1zM668 296h1v1h-1zM669 297h1v1h-1zM670 298h1v1h-1zM671 299h1v1h-1zM672 300h1v1h-1zM673 301h1v1h-1zM674 302h1v1h-1zM675 303h1V305h-1zM676 305h1v1h-1zM677 306h1V308h-1zM678 308h1V310h-1zM679 310h1v1h-1zM680 311h1V313h-1zM681 313h1v1h-1zM682 314h1V316h-1zM683 316h1v1h-1zM684 317h1V319h-1zM685 319h1v1h-1zM686 320h1V322h-1zM687 322h1v1h-1zM688 323h1v1h-1zM689 324h1V326h-1zM690 326h1v1h-1zM691 327h1v1h-1zM692 328h1v1h-1zM693 329h1v1h-1zM694 330h1v1h-1zM695 331h1v1h-1zM696 332h1v1h-1zM697 332h1v1h-1zM698 333h1v1h-1zM699 334h1v1h-1zM700 335h1v1h-1zM701 336h1v1h-1zM702 337h1v1h-1zM703 338h1V340h-1zM704 339h1v1h-1zM705 340h1v1h-1zM706 340h1v1h-1zM707 341h1v1h-1zM708 341h1v1h-1zM709 342h1v1h-1zM710 343h1v1h-1zM711 344h1v1h-1zM712 345h1v1h-1zM713 345h1v1h-1zM714 346h1v1h-1zM715 347h1v1h-1zM716 348h1v1h-1zM717 349h1v1h-1zM718 350h1v1h-1zM719 351h1v1h-1zM720 352h1v1h-1zM721 353h1v1h-1zM722 354h1v1h-1zM723 355h1V357h-1zM724 357h1v1h-1zM725 358h1V360h-1zM726 360h1v1h-1zM727 361h1v1h-1zM728 362h1V364h-1zM729 364h1v1h-1zM730 365h1v1h-1zM731 366h1v1h-1zM732 367h1v1h-1zM733 367h1v1h-1zM734 367h1v1h-1zM735 367h1v1h-1zM736 368h1v1h-1zM737 368h1v1h-1zM738 369h1v1h-1zM739 370h1v1h-1zM740 370h1v1h-1zM741 371h1v1h-1zM742 372h1v1h-1zM743 373h1v1h-1zM744 373h1v1h-1zM745 374h1v1h-1zM746 374h1v1h-1zM747 375h1v1h-1zM748 375h1v1h-1zM749 375h1v1h-1zM750 376h1v1h-1zM751 376h1v1h-1zM752 377h1v1h-1zM753 378h1v1h-1zM754 379h1v1h-1zM755 380h1v1h-1zM756 381h1v1h-1zM757 382h1v1h-1zM758 382h1v1h-1zM759 383h1v1h-1zM760 384h1v1h-1zM761 385h1v1h-1zM762 386h1v1h-1zM763 386h1v1h-1zM764 387h1v1h-1zM765 388h1v1h-1zM766 389h1v1h-1zM767 390h1v1h-1zM768 390h1v1h-1zM769 391h1v1h-1zM770 392h1v1h-1zM771 393h1v1h-1zM772 393h1v1h-1zM773 393h1v1h-1zM774 393h1v1h-1zM775 393h1v1h-1zM776 393h1v1h-1zM777 393h1v1h-1zM778 394h1v1h-1zM779 394h1v1h-1zM780 395h1v1h-1zM781 395h1v1h-1zM782 395h1v1h-1zM783 396h1v1h-1zM784 396h1v1h-1zM785 397h1v1h-1zM786 398h1v1h-1zM787 399h1V401h-1zM788 401h1v1h-1zM789 402h1v1h-1zM790 403h1V405h-1zM791 405h1v1h-1zM792 406h1v1h-1zM793 407h1v1h-1zM794 408h1v1h-1zM795 409h1V411h-1zM796 411h1v1h-1zM797 412h1V414h-1zM798 414h1v1h-1zM799 415h1V417h-1zM800 417h1v1h-1zM801 418h1v1h-1zM802 419h1v1h-1zM803 420h1V422h-1zM804 422h1v1h-1zM805 423h1v1h-1zM806 424h1v1h-1zM807 425h1v1h-1zM808 425h1v1h-1zM809 426h1v1h-1zM810 426h1v1h-1zM811 427h1v1h-1zM812 427h1v1h-1zM813 428h1v1h-1zM814 429h1v1h-1zM815 429h1v1h-1zM816 430h1v1h-1zM817 431h1v1h-1zM818 432h1v1h-1zM819 433h1v1h-1zM820 434h1v1h-1zM821 435h1v1h-1zM822 436h1V438h-1zM823 437h1v1h-1zM824 438h1v1h-1zM825 439h1v1h-1zM826 439h1v1h-1zM827 440h1v1h-1zM828 440h1v1h-1zM829 441h1v1h-1zM830 441h1v1h-1zM831 442h1v1h-1zM832 442h1v1h-1zM833 443h1v1h-1zM834 443h1v1h-1zM835 443h1v1h-1zM836 443h1v1h-1zM837 443h1v1h-1zM838 443h1v1h-1zM839 442h1v1h-1zM840 442h1v1h-1zM841 441h1v1h-1zM842 441h1v1h-1zM843 440h1v1h-1zM844 439h1v1h-1zM845 439h1v1h-1zM846 438h1v1h-1zM847 438h1v1h-1zM848 437h1v1h-1zM849 436h1v1h-1zM850 436h1v1h-1zM851 435h1v1h-1zM852 434h1v1h-1zM853 433h1v1h-1zM854 433h1v1h-1zM855 432h1v1h-1zM856 431h1v1h-1zM857 430h1v1h-1zM858 429h1v1h-1zM859 428h1v1h-1zM860 427h1v1h-1zM861 425h1V427h-1zM862 424h1v1h-1zM863 423h1v1h-1zM864 422h1v1h-1zM865 420h1V422h-1zM866 419h1v1h-1zM867 417h1V419h-1zM868 416h1v1h-1zM869 415h1v1h-1zM870 413h1V415h-1zM871 412h1v1h-1zM872 410h1V412h-1zM873 408h1V410h-1zM874 407h1v1h-1zM875 405h1V407h-1zM876 403h1V405h-1zM877 402h1v1h-1zM878 400h1V402h-1zM879 399h1v1h-1zM880 397h1V399h-1zM881 396h1v1h-1zM882 395h1v1h-1zM883 394h1v1h-1zM884 392h1V394h-1zM885 391h1v1h-1zM886 390h1v1h-1zM887 389h1v1h-1zM888 387h1V389h-1zM889 386h1v1h-1zM890 385h1v1h-1zM891 384h1v1h-1zM892 382h1V384h-1zM893 381h1v1h-1zM894 380h1v1h-1zM895 379h1v1h-1zM896 378h1v1h-1zM897 377h1v1h-1zM898 375h1V377h-1zM899 374h1v1h-1zM900 373h1v1h-1zM901 371h1V373h-1zM902 370h1v1h-1zM903 369h1v1h-1zM904 368h1v1h-1zM905 367h1v1h-1zM906 365h1V367h-1zM907 364h1v1h-1zM908 363h1v1h-1zM909 362h1v1h-1zM910 361h1v1h-1zM911 360h1v1h-1zM912 360h1v1h-1zM913 359h1v1h-1zM914 359h1v1h-1zM915 358h1v1h-1zM916 358h1v1h-1zM917 358h1v1h-1zM918 357h1v1h-1zM919 357h1v1h-1zM920 357h1v1h-1zM921 357h1v1h-1zM922 357h1v1h-1z"/>
</g>
<rect shape-rendering="crispEdges" x="3" y="250" width="1164" height="2" fill="#f00"/>
<rect shape-rendering="crispEdges" x="3" y="309" width="1164" height="2" fill="#f00"/>
<rect shape-rendering="crispEdges" x="3" y="374" width="1164" height="2" fill="#0f0"/>
<rect shape-rendering="crispEdges" x="3" y="425" width="1164" height="2" fill="#00f"/>
<rect shape-rendering="crispEdges" x="3" y="475" width="1164" height="2" fill="#00f"/>
<g clip-path="url(#cm)">
<path shape-rendering="crispEdges" fill="#26c626" d="M3 82h1V146h-1zM2 82h3V140h-3zM19 92h1V121h-1zM18 100h3V115h-3zM27 92h1V138h-1zM26 100h3V132h-3zM35 124h1V156h-1zM34 130h3V150h-3zM39 140h1V164h-1zM38 149h3V163h-3zM43 159h1V198h-1zM42 162h3V185h-3zM55 150h1V158h-1zM54 155h3V157h-3zM71 92h1V125h-1zM70 92h3V95h-3zM75 92h1V149h-1zM74 100h3V129h-3zM79 125h1V136h-1zM78 127h3V130h-3zM83 120h1V141h-1zM82 128h3V132h-3zM87 129h1V149h-1zM86 132h3V145h-3zM91 92h1V186h-1zM90 144h3V182h-3zM95 161h1V224h-1zM94 181h3V216h-3zM99 196h1V240h-1zM98 214h3V234h-3zM103 233h1V241h-1zM102 233h3V239h-3zM111 175h1V240h-1zM110 197h3V222h-3zM119 190h1V224h-1zM118 204h3V222h-3zM127 212h1V226h-1zM126 214h3V225h-3zM131 232h1V260h-1zM130 235h3V253h-3zM135 247h1V281h-1zM134 252h3V272h-3zM147 243h1V273h-1zM146 247h3V269h-3zM151 265h1V275h-1zM150 268h3V273h-3zM163 237h1V261h-1zM162 238h3V250h-3zM167 249h1V271h-1zM166 249h3V261h-3zM183 239h1V275h-1zM182 244h3V267h-3zM187 263h1V284h-1zM186 267h3V273h-3zM191 272h1V301h-1zM190 273h3V291h-3zM195 283h1V314h-1zM194 290h3V312h-3zM199 308h1V320h-1zM198 309h3V315h-3zM207 299h1V319h-1zM206 306h3V308h-3zM219 279h1V304h-1zM218 284h3V287h-3zM223 285h1V291h-1zM222 286h3V287h-3zM231 281h1V301h-1zM230 292h3V299h-3zM235 296h1V322h-1zM234 298h3V316h-3zM259 278h1V307h-1zM258 284h3V293h-3zM263 289h1V312h-1zM262 292h3V310h-3zM275 289h1V313h-1zM274 291h3V303h-3zM279 301h1V326h-1zM278 302h3V323h-3zM283 309h1V339h-1zM282 322h3V330h-3zM295 331h1V388h-1zM294 333h3V375h-3zM299 361h1V416h-1zM298 374h3V387h-3zM311 348h1V374h-1zM310 355h3V370h-3zM323 346h1V376h-1zM322 349h3V368h-3zM347 327h1V353h-1zM346 329h3V349h-3zM351 342h1V366h-1zM350 348h3V366h-3zM367 329h1V345h-1zM366 331h3V336h-3zM371 332h1V358h-1zM370 335h3V355h-3zM379 311h1V358h-1zM378 331h3V351h-3zM383 345h1V388h-1zM382 351h3V386h-3zM395 347h1V372h-1zM394 349h3V364h-3zM407 338h1V366h-1zM406 350h3V365h-3zM411 363h1V368h-1zM410 364h3V367h-3zM415 364h1V387h-1zM414 368h3V386h-3zM419 378h1V407h-1zM418 385h3V406h-3zM427 392h1V411h-1zM426 398h3V409h-3zM435 403h1V409h-1zM434 404h3V406h-3zM439 403h1V427h-1zM438 404h3V423h-3zM455 355h1V385h-1zM454 356h3V371h-3zM467 351h1V374h-1zM466 352h3V365h-3zM471 357h1V386h-1zM470 364h3V372h-3zM487 348h1V362h-1zM486 353h3V359h-3zM495 347h1V369h-1zM494 349h3V356h-3zM507 297h1V313h-1zM506 306h3V313h-3zM515 263h1V316h-1zM514 278h3V303h-3zM519 297h1V324h-1zM518 302h3V315h-3zM523 311h1V344h-1zM522 314h3V338h-3zM531 322h1V333h-1zM530 324h3V327h-3zM539 320h1V334h-1zM538 325h3V326h-3zM547 314h1V342h-1zM546 316h3V323h-3zM555 314h1V321h-1zM554 315h3V319h-3zM559 309h1V325h-1zM558 311h3V323h-3zM575 272h1V289h-1zM574 276h3V285h-3zM579 280h1V286h-1zM578 283h3V285h-3zM591 247h1V271h-1zM590 250h3V262h-3zM599 248h1V255h-1zM598 250h3V254h-3zM603 248h1V254h-1zM602 249h3V253h-3zM607 241h1V271h-1zM606 252h3V270h-3zM611 260h1V286h-1zM610 269h3V286h-3zM623 255h1V276h-1zM622 265h3V269h-3zM631 259h1V280h-1zM630 265h3V277h-3zM635 267h1V283h-1zM634 275h3V281h-3zM639 278h1V301h-1zM638 279h3V299h-3zM643 281h1V304h-1zM642 298h3V299h-3zM647 289h1V306h-1zM646 299h3V302h-3zM655 291h1V324h-1zM654 297h3V316h-3zM659 314h1V339h-1zM658 315h3V327h-3zM663 322h1V338h-1zM662 326h3V338h-3zM675 333h1V339h-1zM674 335h3V339h-3zM679 334h1V352h-1zM678 337h3V352h-3zM687 339h1V354h-1zM686 347h3V353h-3zM691 348h1V366h-1zM690 352h3V360h-3zM703 343h1V358h-1zM702 353h3V354h-3zM711 333h1V349h-1zM710 339h3V342h-3zM715 336h1V362h-1zM714 341h3V361h-3zM719 358h1V411h-1zM718 360h3V411h-3zM727 397h1V424h-1zM726 411h3V418h-3zM739 365h1V382h-1zM738 367h3V375h-3zM743 373h1V396h-1zM742 374h3V387h-3zM747 385h1V389h-1zM746 387h3V389h-3zM755 382h1V409h-1zM754 382h3V402h-3zM771 385h1V391h-1zM770 386h3V391h-3zM775 385h1V415h-1zM774 391h3V412h-3zM779 411h1V436h-1zM778 411h3V420h-3zM783 414h1V451h-1zM782 419h3V443h-3zM787 434h1V460h-1zM786 442h3V451h-3zM791 446h1V470h-1zM790 450h3V463h-3zM795 461h1V469h-1zM794 462h3V468h-3zM799 452h1V476h-1zM798 456h3V457h-3zM807 436h1V451h-1zM806 444h3V449h-3zM815 415h1V443h-1zM814 427h3V439h-3zM823 427h1V440h-1zM822 434h3V438h-3zM831 424h1V446h-1zM830 427h3V440h-3zM843 427h1V433h-1zM842 428h3V433h-3zM855 417h1V434h-1zM854 417h3V433h-3zM867 366h1V372h-1zM866 367h3V370h-3zM879 331h1V355h-1zM878 341h3V352h-3zM883 340h1V361h-1zM882 351h3V353h-3zM887 351h1V375h-1zM886 352h3V366h-3zM895 357h1V370h-1zM894 367h3V369h-3zM915 347h1V358h-1zM914 349h3V355h-3zM919 351h1V368h-1zM918 355h3V364h-3zM923 361h1V366h-1zM922 363h3V364h-3z"/>
<path shape-rendering="crispEdges" fill="#ff0000" d="M7 131h1V142h-1zM6 137h3V140h-3zM11 92h1V117h-1zM10 92h3V95h-3zM23 92h1V123h-1zM22 100h3V115h-3zM31 128h1V133h-1zM30 129h3V132h-3zM47 147h1V189h-1zM46 156h3V185h-3zM51 140h1V176h-1zM50 155h3V157h-3zM59 106h1V162h-1zM58 121h3V159h-3zM63 92h1V137h-1zM62 120h3V122h-3zM67 92h1V126h-1zM66 100h3V121h-3zM107 184h1V279h-1zM106 197h3V243h-3zM115 196h1V244h-1zM114 204h3V222h-3zM123 197h1V224h-1zM122 214h3V222h-3zM139 258h1V294h-1zM138 269h3V272h-3zM143 234h1V274h-1zM142 248h3V270h-3zM155 239h1V282h-1zM154 240h3V270h-3zM159 228h1V258h-1zM158 238h3V240h-3zM171 245h1V263h-1zM170 257h3V261h-3zM175 252h1V259h-1zM174 254h3V258h-3zM179 237h1V261h-1zM178 246h3V253h-3zM203 290h1V316h-1zM202 306h3V310h-3zM211 301h1V330h-1zM210 301h3V308h-3zM215 280h1V302h-1zM214 284h3V302h-3zM227 291h1V309h-1zM226 292h3V296h-3zM239 305h1V327h-1zM238 309h3V316h-3zM243 293h1V316h-1zM242 302h3V303h-3zM247 302h1V310h-1zM246 302h3V309h-3zM251 272h1V302h-1zM250 289h3V302h-3zM255 277h1V297h-1zM254 284h3V290h-3zM267 305h1V312h-1zM266 308h3V310h-3zM271 290h1V312h-1zM270 291h3V310h-3zM287 322h1V333h-1zM286 326h3V330h-3zM303 370h1V403h-1zM302 374h3V387h-3zM307 355h1V391h-1zM306 355h3V375h-3zM315 350h1V374h-1zM314 359h3V370h-3zM319 336h1V359h-1zM318 349h3V353h-3zM327 358h1V387h-1zM326 362h3V368h-3zM331 349h1V370h-1zM330 353h3V364h-3zM335 341h1V366h-1zM334 343h3V356h-3zM339 340h1V349h-1zM338 341h3V345h-3zM343 318h1V346h-1zM342 329h3V340h-3zM355 358h1V372h-1zM354 359h3V366h-3zM359 327h1V365h-1zM358 332h3V361h-3zM363 327h1V337h-1zM362 329h3V333h-3zM375 325h1V360h-1zM374 332h3V354h-3zM387 370h1V386h-1zM386 376h3V386h-3zM391 347h1V384h-1zM390 349h3V372h-3zM399 358h1V372h-1zM398 363h3V364h-3zM403 348h1V371h-1zM402 351h3V364h-3zM423 395h1V415h-1zM422 399h3V406h-3zM431 389h1V411h-1zM430 404h3V409h-3zM443 397h1V427h-1zM442 404h3V422h-3zM447 376h1V406h-1zM446 381h3V405h-3zM451 355h1V398h-1zM450 355h3V381h-3zM459 362h1V375h-1zM458 364h3V371h-3zM463 350h1V378h-1zM462 352h3V377h-3zM475 364h1V384h-1zM474 364h3V372h-3zM479 318h1V367h-1zM478 348h3V366h-3zM483 336h1V350h-1zM482 340h3V349h-3zM491 342h1V364h-1zM490 349h3V360h-3zM499 345h1V358h-1zM498 351h3V356h-3zM503 306h1V353h-1zM502 306h3V352h-3zM511 276h1V321h-1zM510 278h3V317h-3zM527 310h1V351h-1zM526 324h3V338h-3zM535 310h1V333h-1zM534 325h3V328h-3zM543 316h1V328h-1zM542 316h3V326h-3zM551 304h1V325h-1zM550 314h3V322h-3zM563 311h1V324h-1zM562 312h3V323h-3zM567 297h1V316h-1zM566 301h3V313h-3zM571 275h1V304h-1zM570 275h3V302h-3zM583 241h1V286h-1zM582 250h3V282h-3zM587 241h1V258h-1zM586 250h3V251h-3zM595 237h1V268h-1zM594 250h3V262h-3zM615 278h1V288h-1zM614 278h3V286h-3zM619 263h1V283h-1zM618 265h3V279h-3zM627 264h1V269h-1zM626 266h3V269h-3zM651 295h1V303h-1zM650 298h3V302h-3zM667 333h1V347h-1zM666 335h3V338h-3zM671 326h1V341h-1zM670 335h3V336h-3zM683 340h1V357h-1zM682 347h3V352h-3zM695 353h1V366h-1zM694 357h3V360h-3zM699 352h1V359h-1zM698 353h3V358h-3zM707 335h1V359h-1zM706 339h3V354h-3zM723 402h1V412h-1zM722 408h3V411h-3zM731 394h1V418h-1zM730 398h3V418h-3zM735 366h1V403h-1zM734 367h3V399h-3zM751 376h1V389h-1zM750 382h3V387h-3zM759 388h1V410h-1zM758 397h3V402h-3zM763 384h1V403h-1zM762 393h3V398h-3zM767 386h1V400h-1zM766 386h3V394h-3zM803 441h1V468h-1zM802 444h3V457h-3zM811 427h1V450h-1zM810 427h3V449h-3zM819 435h1V439h-1zM818 436h3V439h-3zM827 425h1V444h-1zM826 427h3V438h-3zM835 432h1V450h-1zM834 438h3V440h-3zM839 427h1V448h-1zM838 428h3V439h-3zM847 407h1V433h-1zM846 419h3V432h-3zM851 416h1V427h-1zM850 417h3V420h-3zM859 368h1V438h-1zM858 368h3V433h-3zM863 361h1V386h-1zM862 368h3V369h-3zM871 346h1V376h-1zM870 353h3V372h-3zM875 339h1V365h-1zM874 341h3V354h-3zM891 363h1V368h-1zM890 364h3V366h-3zM899 354h1V370h-1zM898 360h3V369h-3zM903 358h1V369h-1zM902 360h3V361h-3zM907 351h1V365h-1zM906 353h3V361h-3zM911 335h1V358h-1zM910 350h3V354h-3z"/>
<path shape-rendering="crispEdges" fill="#000" d="M291 323h1V324h-1zM290 323h3V324h-3z"/>
<path shape-rendering="crispEdges" fill="#ff4500" d="M7 138h1V139h-1zM11 93h1V94h-1zM23 101h1V114h-1zM31 130h1V131h-1zM47 157h1V184h-1zM59 122h1V158h-1zM67 101h1V120h-1zM107 198h1V242h-1zM115 205h1V221h-1zM123 215h1V221h-1zM139 270h1V271h-1zM143 249h1V269h-1zM155 241h1V269h-1zM171 258h1V260h-1zM175 255h1V257h-1zM179 247h1V252h-1zM203 307h1V309h-1zM211 302h1V307h-1zM215 285h1V301h-1zM227 293h1V295h-1zM239 310h1V315h-1zM247 303h1V308h-1zM251 290h1V301h-1zM255 285h1V289h-1zM271 292h1V309h-1zM287 327h1V329h-1zM303 375h1V386h-1zM307 356h1V374h-1zM315 360h1V369h-1zM319 350h1V352h-1zM327 363h1V367h-1zM331 354h1V363h-1zM335 344h1V355h-1zM339 342h1V344h-1zM343 330h1V339h-1zM355 360h1V365h-1zM359 333h1V360h-1zM363 330h1V332h-1zM375 333h1V353h-1zM387 377h1V385h-1zM391 350h1V371h-1zM403 352h1V363h-1zM423 400h1V405h-1zM431 405h1V408h-1zM443 405h1V421h-1zM447 382h1V404h-1zM451 356h1V380h-1zM459 365h1V370h-1zM463 353h1V376h-1zM475 365h1V371h-1zM479 349h1V365h-1zM483 341h1V348h-1zM491 350h1V359h-1zM499 352h1V355h-1zM503 307h1V351h-1zM511 279h1V316h-1zM527 325h1V337h-1zM535 326h1V327h-1zM543 317h1V325h-1zM551 315h1V321h-1zM563 313h1V322h-1zM567 302h1V312h-1zM571 276h1V301h-1zM583 251h1V281h-1zM595 251h1V261h-1zM615 279h1V285h-1zM619 266h1V278h-1zM627 267h1V268h-1zM651 299h1V301h-1zM667 336h1V337h-1zM683 348h1V351h-1zM695 358h1V359h-1zM699 354h1V357h-1zM707 340h1V353h-1zM723 409h1V410h-1zM731 399h1V417h-1zM735 368h1V398h-1zM751 383h1V386h-1zM759 398h1V401h-1zM763 394h1V397h-1zM767 387h1V393h-1zM803 445h1V456h-1zM811 428h1V448h-1zM819 437h1V438h-1zM827 428h1V437h-1zM839 429h1V438h-1zM847 420h1V431h-1zM851 418h1V419h-1zM859 369h1V432h-1zM871 354h1V371h-1zM875 342h1V353h-1zM899 361h1V368h-1zM907 354h1V360h-1zM911 351h1V353h-1z"/>
<path shape-rendering="crispEdges" fill="#32cd32" d="M3 83h1V139h-1zM19 101h1V114h-1zM27 101h1V131h-1zM35 131h1V149h-1zM39 150h1V162h-1zM43 163h1V184h-1zM71 93h1V94h-1zM75 101h1V128h-1zM79 128h1V129h-1zM83 129h1V131h-1zM87 133h1V144h-1zM91 145h1V181h-1zM95 182h1V215h-1zM99 215h1V233h-1zM103 234h1V238h-1zM111 198h1V221h-1zM119 205h1V221h-1zM127 215h1V224h-1zM131 236h1V252h-1zM135 253h1V271h-1zM147 248h1V268h-1zM151 269h1V272h-1zM163 239h1V249h-1zM167 250h1V260h-1zM183 245h1V266h-1zM187 268h1V272h-1zM191 274h1V290h-1zM195 291h1V311h-1zM199 310h1V314h-1zM219 285h1V286h-1zM231 293h1V298h-1zM235 299h1V315h-1zM259 285h1V292h-1zM263 293h1V309h-1zM275 292h1V302h-1zM279 303h1V322h-1zM283 323h1V329h-1zM295 334h1V374h-1zM299 375h1V386h-1zM311 356h1V369h-1zM323 350h1V367h-1zM347 330h1V348h-1zM351 349h1V365h-1zM367 332h1V335h-1zM371 336h1V354h-1zM379 332h1V350h-1zM383 352h1V385h-1zM395 350h1V363h-1zM407 351h1V364h-1zM411 365h1V366h-1zM415 369h1V385h-1zM419 386h1V405h-1zM427 399h1V408h-1zM439 405h1V422h-1zM455 357h1V370h-1zM467 353h1V364h-1zM471 365h1V371h-1zM487 354h1V358h-1zM495 350h1V355h-1zM507 307h1V312h-1zM515 279h1V302h-1zM519 303h1V314h-1zM523 315h1V337h-1zM531 325h1V326h-1zM547 317h1V322h-1zM555 316h1V318h-1zM559 312h1V322h-1zM575 277h1V284h-1zM591 251h1V261h-1zM599 251h1V253h-1zM603 250h1V252h-1zM607 253h1V269h-1zM611 270h1V285h-1zM623 266h1V268h-1zM631 266h1V276h-1zM635 276h1V280h-1zM639 280h1V298h-1zM647 300h1V301h-1zM655 298h1V315h-1zM659 316h1V326h-1zM663 327h1V337h-1zM675 336h1V338h-1zM679 338h1V351h-1zM687 348h1V352h-1zM691 353h1V359h-1zM711 340h1V341h-1zM715 342h1V360h-1zM719 361h1V410h-1zM727 412h1V417h-1zM739 368h1V374h-1zM743 375h1V386h-1zM755 383h1V401h-1zM771 387h1V390h-1zM775 392h1V411h-1zM779 412h1V419h-1zM783 420h1V442h-1zM787 443h1V450h-1zM791 451h1V462h-1zM795 463h1V467h-1zM807 445h1V448h-1zM815 428h1V438h-1zM823 435h1V437h-1zM831 428h1V439h-1zM843 429h1V432h-1zM855 418h1V432h-1zM867 368h1V369h-1zM879 342h1V351h-1zM887 353h1V365h-1zM915 350h1V354h-1zM919 356h1V363h-1z"/>
</g>
<rect shape-rendering="crispEdges" x="2" y="248" width="6" height="6" fill="#f00"/><rect shape-rendering="crispEdges" x="4" y="250" width="2" height="2" fill="#fff"/>
<rect shape-rendering="crispEdges" x="1159" y="248" width="6" height="6" fill="#f00"/><rect shape-rendering="crispEdges" x="1161" y="250" width="2" height="2" fill="#fff"/>
<rect shape-rendering="crispEdges" x="2" y="307" width="6" height="6" fill="#f00"/><rect shape-rendering="crispEdges" x="4" y="309" width="2" height="2" fill="#fff"/>
<rect shape-rendering="crispEdges" x="1159" y="307" width="6" height="6" fill="#f00"/><rect shape-rendering="crispEdges" x="1161" y="309" width="2" height="2" fill="#fff"/>
<rect shape-rendering="crispEdges" x="2" y="372" width="6" height="6" fill="#0f0"/><rect shape-rendering="crispEdges" x="4" y="374" width="2" height="2" fill="#fff"/>
<rect shape-rendering="crispEdges" x="1159" y="372" width="6" height="6" fill="#0f0"/><rect shape-rendering="crispEdges" x="1161" y="374" width="2" height="2" fill="#fff"/>
<g clip-path="url(#c2)">
<path shape-rendering="crispEdges" fill="#c0c0c0" d="M2 521h3V563h-3zM6 521h3V566h-3zM10 521h3V563h-3zM14 521h3V559h-3zM18 521h3V560h-3zM22 521h3V560h-3zM26 521h3V561h-3zM30 521h3V561h-3zM34 521h3V562h-3zM38 521h3V565h-3zM42 521h3V568h-3zM46 521h3V567h-3zM50 521h3V566h-3zM54 521h3V564h-3zM58 521h3V560h-3zM62 521h3V556h-3zM66 521h3V550h-3zM70 521h3V545h-3zM74 521h3V543h-3zM78 521h3V543h-3zM82 521h3V542h-3zM86 521h3V542h-3zM90 521h3V546h-3zM94 521h3V552h-3zM98 521h3V558h-3zM102 521h3V563h-3zM106 521h3V562h-3zM110 521h3V563h-3zM114 521h3V562h-3zM118 521h3V563h-3zM122 521h3V562h-3zM126 521h3V561h-3zM130 521h3V564h-3zM134 521h3V566h-3zM138 521h3V569h-3zM142 521h3V567h-3zM146 521h3V568h-3zM150 521h3V568h-3zM154 521h3V566h-3zM158 521h3V561h-3zM162 521h3V559h-3zM166 521h3V558h-3zM170 521h3V556h-3zM174 521h3V555h-3zM178 521h3V552h-3zM182 521h3V551h-3zM186 521h3V552h-3zM190 521h3V554h-3zM194 521h3V555h-3zM198 521h3V558h-3zM202 521h3V559h-3zM206 521h3V559h-3zM210 521h3V558h-3zM214 521h3V555h-3zM218 521h3V553h-3zM222 521h3V550h-3zM226 521h3V549h-3zM230 521h3V548h-3zM234 521h3V548h-3zM238 521h3V548h-3zM242 521h3V548h-3zM246 521h3V547h-3zM250 521h3V544h-3zM254 521h3V541h-3zM258 521h3V539h-3zM262 521h3V540h-3zM266 521h3V540h-3zM270 521h3V538h-3zM274 521h3V537h-3zM278 521h3V538h-3zM282 521h3V539h-3zM286 521h3V539h-3zM290 521h3V539h-3zM294 521h3V545h-3zM298 521h3V550h-3zM302 521h3V552h-3zM306 521h3V552h-3zM310 521h3V552h-3zM314 521h3V551h-3zM318 521h3V548h-3zM322 521h3V548h-3zM326 521h3V548h-3zM330 521h3V547h-3zM334 521h3V544h-3zM338 521h3V541h-3zM342 521h3V538h-3zM346 521h3V537h-3zM350 521h3V538h-3zM354 521h3V538h-3zM358 521h3V534h-3zM362 521h3V532h-3zM366 521h3V529h-3zM370 521h3V530h-3zM374 521h3V529h-3zM378 521h3V529h-3zM382 521h3V531h-3zM386 521h3V534h-3zM390 521h3V532h-3zM394 521h3V533h-3zM398 521h3V533h-3zM402 521h3V531h-3zM406 521h3V531h-3zM410 521h3V531h-3zM414 521h3V533h-3zM418 521h3V537h-3zM422 521h3V539h-3zM426 521h3V541h-3zM430 521h3V542h-3zM434 521h3V543h-3zM438 521h3V545h-3zM442 521h3V544h-3zM446 521h3V541h-3zM450 521h3V537h-3zM454 521h3V534h-3zM458 521h3V531h-3zM462 521h3V528h-3zM466 521h3V526h-3zM470 521h3V525h-3zM474 521h3V524h-3zM478 521h3V522h-3zM482 518h3V521h-3zM486 518h3V521h-3zM490 517h3V521h-3zM494 516h3V521h-3zM498 516h3V521h-3zM502 511h3V521h-3zM506 508h3V521h-3zM510 503h3V521h-3zM514 501h3V521h-3zM518 501h3V521h-3zM522 503h3V521h-3zM526 504h3V521h-3zM530 505h3V521h-3zM534 506h3V521h-3zM538 507h3V521h-3zM542 507h3V521h-3zM546 508h3V521h-3zM550 508h3V521h-3zM554 508h3V521h-3zM558 509h3V521h-3zM562 509h3V521h-3zM566 509h3V521h-3zM570 505h3V521h-3zM574 503h3V521h-3zM578 502h3V521h-3zM582 499h3V521h-3zM586 496h3V521h-3zM590 495h3V521h-3zM594 494h3V521h-3zM598 493h3V521h-3zM602 493h3V521h-3zM606 495h3V521h-3zM610 498h3V521h-3zM614 501h3V521h-3zM618 501h3V521h-3zM622 502h3V521h-3zM626 503h3V521h-3zM630 505h3V521h-3zM634 507h3V521h-3zM638 510h3V521h-3zM642 513h3V521h-3zM646 516h3V521h-3zM650 518h3V521h-3zM654 521h3V522h-3zM658 521h3V524h-3zM662 521h3V529h-3zM666 521h3V532h-3zM670 521h3V534h-3zM674 521h3V536h-3zM678 521h3V538h-3zM682 521h3V540h-3zM686 521h3V541h-3zM690 521h3V543h-3zM694 521h3V543h-3zM698 521h3V543h-3zM702 521h3V542h-3zM706 521h3V541h-3zM710 521h3V541h-3zM714 521h3V542h-3zM718 521h3V545h-3zM722 521h3V549h-3zM726 521h3V552h-3zM730 521h3V553h-3zM734 521h3V550h-3zM738 521h3V547h-3zM742 521h3V547h-3zM746 521h3V545h-3zM750 521h3V545h-3zM754 521h3V546h-3zM758 521h3V545h-3zM762 521h3V544h-3zM766 521h3V543h-3zM770 521h3V542h-3zM774 521h3V543h-3zM778 521h3V544h-3zM782 521h3V547h-3zM786 521h3V550h-3zM790 521h3V553h-3zM794 521h3V556h-3zM798 521h3V556h-3zM802 521h3V555h-3zM806 521h3V554h-3zM810 521h3V552h-3zM814 521h3V550h-3zM818 521h3V548h-3zM822 521h3V546h-3zM826 521h3V544h-3zM830 521h3V542h-3zM834 521h3V541h-3zM838 521h3V539h-3zM842 521h3V537h-3zM846 521h3V535h-3zM850 521h3V533h-3zM854 521h3V531h-3zM858 521h3V526h-3zM862 519h3V521h-3zM866 515h3V521h-3zM870 510h3V521h-3zM874 506h3V521h-3zM878 503h3V521h-3zM882 502h3V521h-3zM886 502h3V521h-3zM890 502h3V521h-3zM894 503h3V521h-3zM898 503h3V521h-3zM902 504h3V521h-3zM906 504h3V521h-3zM910 504h3V521h-3zM914 504h3V521h-3zM918 504h3V521h-3zM922 506h3V521h-3z"/>
<path shape-rendering="crispEdges" fill="#ff0000" d="M4 553h1v1h-1zM5 553h1v1h-1zM6 554h1v1h-1zM7 555h1v1h-1zM8 556h1v1h-1zM9 556h1v1h-1zM10 557h1v1h-1zM11 557h1v1h-1zM12 557h1v1h-1zM13 558h1v1h-1zM14 558h1v1h-1zM15 558h1v1h-1zM16 558h1v1h-1zM17 559h1v1h-1zM18 559h1v1h-1zM19 559h1v1h-1zM20 559h1v1h-1zM21 559h1v1h-1zM22 559h1v1h-1zM23 560h1v1h-1zM24 560h1v1h-1zM25 560h1v1h-1zM26 560h1v1h-1zM27 560h1v1h-1zM28 560h1v1h-1zM29 560h1v1h-1zM30 560h1v1h-1zM31 560h1v1h-1zM32 560h1v1h-1zM33 560h1v1h-1zM34 561h1v1h-1zM35 561h1v1h-1zM36 561h1v1h-1zM37 561h1v1h-1zM38 561h1v1h-1zM39 561h1v1h-1zM40 561h1v1h-1zM41 561h1v1h-1zM42 561h1v1h-1zM43 561h1v1h-1zM44 561h1v1h-1zM45 561h1v1h-1zM46 561h1v1h-1zM47 561h1v1h-1zM48 561h1v1h-1zM49 562h1v1h-1zM50 562h1v1h-1zM51 562h1v1h-1zM52 562h1v1h-1zM53 563h1v1h-1zM54 563h1v1h-1zM55 563h1v1h-1zM56 563h1v1h-1zM57 563h1v1h-1zM58 563h1v1h-1zM59 563h1v1h-1zM60 563h1v1h-1zM61 563h1v1h-1zM62 562h1v1h-1zM63 562h1v1h-1zM64 562h1v1h-1zM65 562h1v1h-1zM66 561h1v1h-1zM67 561h1v1h-1zM68 560h1v1h-1zM69 560h1v1h-1zM70 559h1v1h-1zM71 559h1v1h-1zM72 558h1v1h-1zM73 558h1v1h-1zM74 557h1v1h-1zM75 557h1v1h-1zM76 556h1v1h-1zM77 555h1v1h-1zM78 554h1v1h-1zM79 554h1v1h-1zM80 553h1v1h-1zM81 552h1v1h-1zM82 552h1v1h-1zM83 551h1v1h-1zM84 550h1v1h-1zM85 550h1v1h-1zM86 549h1v1h-1zM87 549h1v1h-1zM88 549h1v1h-1zM89 548h1v1h-1zM90 548h1v1h-1zM91 547h1v1h-1zM92 547h1v1h-1zM93 547h1v1h-1zM94 546h1v1h-1zM95 546h1v1h-1zM96 546h1v1h-1zM97 546h1v1h-1zM98 546h1v1h-1zM99 546h1v1h-1zM100 546h1v1h-1zM101 546h1v1h-1zM102 547h1v1h-1zM103 547h1v1h-1zM104 547h1v1h-1zM105 548h1v1h-1zM106 548h1v1h-1zM107 549h1v1h-1zM108 549h1v1h-1zM109 549h1v1h-1zM110 550h1v1h-1zM111 550h1v1h-1zM112 551h1v1h-1zM113 551h1v1h-1zM114 552h1v1h-1zM115 553h1v1h-1zM116 553h1v1h-1zM117 554h1v1h-1zM118 555h1v1h-1zM119 555h1v1h-1zM120 556h1v1h-1zM121 556h1v1h-1zM122 557h1v1h-1zM123 557h1v1h-1zM124 558h1v1h-1zM125 558h1v1h-1zM126 559h1v1h-1zM127 559h1v1h-1zM128 560h1v1h-1zM129 560h1v1h-1zM130 560h1v1h-1zM131 561h1v1h-1zM132 561h1v1h-1zM133 561h1v1h-1zM134 562h1v1h-1zM135 562h1v1h-1zM136 562h1v1h-1zM137 563h1v1h-1zM138 563h1v1h-1zM139 563h1v1h-1zM140 563h1v1h-1zM141 563h1v1h-1zM142 563h1v1h-1zM143 563h1v1h-1zM144 564h1v1h-1zM145 564h1v1h-1zM146 564h1v1h-1zM147 564h1v1h-1zM148 564h1v1h-1zM149 564h1v1h-1zM150 564h1v1h-1zM151 564h1v1h-1zM152 565h1v1h-1zM153 565h1v1h-1zM154 565h1v1h-1zM155 565h1v1h-1zM156 565h1v1h-1zM157 565h1v1h-1zM158 565h1v1h-1zM159 565h1v1h-1zM160 565h1v1h-1zM161 565h1v1h-1zM162 565h1v1h-1zM163 565h1v1h-1zM164 564h1v1h-1zM165 564h1v1h-1zM166 564h1v1h-1zM167 564h1v1h-1zM168 564h1v1h-1zM169 563h1v1h-1zM170 563h1v1h-1zM171 562h1v1h-1zM172 562h1v1h-1zM173 561h1v1h-1zM174 561h1v1h-1zM175 561h1v1h-1zM176 560h1v1h-1zM177 560h1v1h-1zM178 559h1v1h-1zM179 559h1v1h-1zM180 558h1v1h-1zM181 558h1v1h-1zM182 558h1v1h-1zM183 557h1v1h-1zM184 557h1v1h-1zM185 556h1v1h-1zM186 556h1v1h-1zM187 556h1v1h-1zM188 555h1v1h-1zM189 555h1v1h-1zM190 555h1v1h-1zM191 555h1v1h-1zM192 554h1v1h-1zM193 554h1v1h-1zM194 554h1v1h-1zM195 554h1v1h-1zM196 554h1v1h-1zM197 554h1v1h-1zM198 554h1v1h-1zM199 554h1v1h-1zM200 554h1v1h-1zM201 554h1v1h-1zM202 554h1v1h-1zM203 554h1v1h-1zM204 554h1v1h-1zM205 554h1v1h-1zM206 554h1v1h-1zM207 554h1v1h-1zM208 554h1v1h-1zM209 554h1v1h-1zM210 554h1v1h-1zM211 554h1v1h-1zM212 555h1v1h-1zM213 555h1v1h-1zM214 555h1v1h-1zM215 555h1v1h-1zM216 555h1v1h-1zM217 555h1v1h-1zM218 555h1v1h-1zM219 555h1v1h-1zM220 555h1v1h-1zM221 555h1v1h-1zM222 555h1v1h-1zM223 555h1v1h-1zM224 555h1v1h-1zM225 554h1v1h-1zM226 554h1v1h-1zM227 554h1v1h-1zM228 554h1v1h-1zM229 553h1v1h-1zM230 553h1v1h-1zM231 553h1v1h-1zM232 552h1v1h-1zM233 552h1v1h-1zM234 552h1v1h-1zM235 552h1v1h-1zM236 551h1v1h-1zM237 551h1v1h-1zM238 551h1v1h-1zM239 551h1v1h-1zM240 550h1v1h-1zM241 550h1v1h-1zM242 550h1v1h-1zM243 550h1v1h-1zM244 549h1v1h-1zM245 549h1v1h-1zM246 549h1v1h-1zM247 548h1v1h-1zM248 548h1v1h-1zM249 548h1v1h-1zM250 547h1v1h-1zM251 547h1v1h-1zM252 547h1v1h-1zM253 546h1v1h-1zM254 546h1v1h-1zM255 546h1v1h-1zM256 545h1v1h-1zM257 545h1v1h-1zM258 545h1v1h-1zM259 545h1v1h-1zM260 544h1v1h-1zM261 544h1v1h-1zM262 544h1v1h-1zM263 544h1v1h-1zM264 544h1v1h-1zM265 543h1v1h-1zM266 543h1v1h-1zM267 543h1v1h-1zM268 543h1v1h-1zM269 542h1v1h-1zM270 542h1v1h-1zM271 542h1v1h-1zM272 541h1v1h-1zM273 541h1v1h-1zM274 541h1v1h-1zM275 540h1v1h-1zM276 540h1v1h-1zM277 539h1v1h-1zM278 539h1v1h-1zM279 539h1v1h-1zM280 538h1v1h-1zM281 538h1v1h-1zM282 538h1v1h-1zM283 538h1v1h-1zM284 538h1v1h-1zM285 538h1v1h-1zM286 538h1v1h-1zM287 538h1v1h-1zM288 538h1v1h-1zM289 538h1v1h-1zM290 538h1v1h-1zM291 538h1v1h-1zM292 538h1v1h-1zM293 538h1v1h-1zM294 538h1v1h-1zM295 538h1v1h-1zM296 539h1v1h-1zM297 539h1v1h-1zM298 539h1v1h-1zM299 540h1v1h-1zM300 540h1v1h-1zM301 540h1v1h-1zM302 541h1v1h-1zM303 541h1v1h-1zM304 542h1v1h-1zM305 542h1v1h-1zM306 542h1v1h-1zM307 543h1v1h-1zM308 543h1v1h-1zM309 543h1v1h-1zM310 544h1v1h-1zM311 544h1v1h-1zM312 545h1v1h-1zM313 545h1v1h-1zM314 545h1v1h-1zM315 546h1v1h-1zM316 546h1v1h-1zM317 546h1v1h-1zM318 547h1v1h-1zM319 547h1v1h-1zM320 547h1v1h-1zM321 547h1v1h-1zM322 548h1v1h-1zM323 548h1v1h-1zM324 548h1v1h-1zM325 548h1v1h-1zM326 549h1v1h-1zM327 549h1v1h-1zM328 549h1v1h-1zM329 549h1v1h-1zM330 549h1v1h-1zM331 549h1v1h-1zM332 549h1v1h-1zM333 549h1v1h-1zM334 548h1v1h-1zM335 548h1v1h-1zM336 548h1v1h-1zM337 548h1v1h-1zM338 547h1v1h-1zM339 547h1v1h-1zM340 547h1v1h-1zM341 546h1v1h-1zM342 546h1v1h-1zM343 546h1v1h-1zM344 545h1v1h-1zM345 545h1v1h-1zM346 545h1v1h-1zM347 544h1v1h-1zM348 544h1v1h-1zM349 543h1v1h-1zM350 543h1v1h-1zM351 543h1v1h-1zM352 542h1v1h-1zM353 542h1v1h-1zM354 541h1v1h-1zM355 541h1v1h-1zM356 541h1v1h-1zM357 540h1v1h-1zM358 540h1v1h-1zM359 540h1v1h-1zM360 539h1v1h-1zM361 539h1v1h-1zM362 538h1v1h-1zM363 538h1v1h-1zM364 537h1v1h-1zM365 537h1v1h-1zM366 536h1v1h-1zM367 536h1v1h-1zM368 535h1v1h-1zM369 535h1v1h-1zM370 534h1v1h-1zM371 534h1v1h-1zM372 534h1v1h-1zM373 533h1v1h-1zM374 533h1v1h-1zM375 533h1v1h-1zM376 532h1v1h-1zM377 532h1v1h-1zM378 532h1v1h-1zM379 532h1v1h-1zM380 531h1v1h-1zM381 531h1v1h-1zM382 531h1v1h-1zM383 531h1v1h-1zM384 531h1v1h-1zM385 531h1v1h-1zM386 531h1v1h-1zM387 531h1v1h-1zM388 531h1v1h-1zM389 531h1v1h-1zM390 531h1v1h-1zM391 531h1v1h-1zM392 531h1v1h-1zM393 530h1v1h-1zM394 530h1v1h-1zM395 530h1v1h-1zM396 530h1v1h-1zM397 530h1v1h-1zM398 530h1v1h-1zM399 530h1v1h-1zM400 530h1v1h-1zM401 530h1v1h-1zM402 530h1v1h-1zM403 530h1v1h-1zM404 531h1v1h-1zM405 531h1v1h-1zM406 531h1v1h-1zM407 531h1v1h-1zM408 531h1v1h-1zM409 531h1v1h-1zM410 531h1v1h-1zM411 531h1v1h-1zM412 531h1v1h-1zM413 531h1v1h-1zM414 531h1v1h-1zM415 531h1v1h-1zM416 532h1v1h-1zM417 532h1v1h-1zM418 532h1v1h-1zM419 532h1v1h-1zM420 532h1v1h-1zM421 532h1v1h-1zM422 532h1v1h-1zM423 532h1v1h-1zM424 533h1v1h-1zM425 533h1v1h-1zM426 533h1v1h-1zM427 533h1v1h-1zM428 533h1v1h-1zM429 534h1v1h-1zM430 534h1v1h-1zM431 534h1v1h-1zM432 535h1v1h-1zM433 535h1v1h-1zM434 535h1v1h-1zM435 536h1v1h-1zM436 536h1v1h-1zM437 536h1v1h-1zM438 537h1v1h-1zM439 537h1v1h-1zM440 537h1v1h-1zM441 538h1v1h-1zM442 538h1v1h-1zM443 539h1v1h-1zM444 539h1v1h-1zM445 540h1v1h-1zM446 540h1v1h-1zM447 540h1v1h-1zM448 540h1v1h-1zM449 540h1v1h-1zM450 540h1v1h-1zM451 540h1v1h-1zM452 540h1v1h-1zM453 540h1v1h-1zM454 540h1v1h-1zM455 540h1v1h-1zM456 540h1v1h-1zM457 540h1v1h-1zM458 539h1v1h-1zM459 539h1v1h-1zM460 539h1v1h-1zM461 538h1v1h-1zM462 538h1v1h-1zM463 537h1v1h-1zM464 537h1v1h-1zM465 537h1v1h-1zM466 536h1v1h-1zM467 536h1v1h-1zM468 536h1v1h-1zM469 535h1v1h-1zM470 535h1v1h-1zM471 534h1v1h-1zM472 533h1v1h-1zM473 533h1v1h-1zM474 532h1v1h-1zM475 531h1v1h-1zM476 531h1v1h-1zM477 530h1v1h-1zM478 529h1v1h-1zM479 529h1v1h-1zM480 528h1v1h-1zM481 527h1v1h-1zM482 527h1v1h-1zM483 526h1v1h-1zM484 526h1v1h-1zM485 525h1v1h-1zM486 525h1v1h-1zM487 524h1v1h-1zM488 524h1v1h-1zM489 523h1v1h-1zM490 523h1v1h-1zM491 523h1v1h-1zM492 522h1v1h-1zM493 522h1v1h-1zM494 522h1v1h-1zM495 521h1v1h-1zM496 521h1v1h-1zM497 521h1v1h-1zM498 520h1v1h-1zM499 520h1v1h-1zM500 520h1v1h-1zM501 519h1v1h-1zM502 519h1v1h-1zM503 518h1v1h-1zM504 518h1v1h-1zM505 517h1v1h-1zM506 516h1v1h-1zM507 516h1v1h-1zM508 515h1v1h-1zM509 515h1v1h-1zM510 514h1v1h-1zM511 514h1v1h-1zM512 513h1v1h-1zM513 513h1v1h-1zM514 512h1v1h-1zM515 512h1v1h-1zM516 511h1v1h-1zM517 511h1v1h-1zM518 510h1v1h-1zM519 510h1v1h-1zM520 509h1v1h-1zM521 509h1v1h-1zM522 508h1v1h-1zM523 508h1v1h-1zM524 508h1v1h-1zM525 507h1v1h-1zM526 507h1v1h-1zM527 507h1v1h-1zM528 506h1v1h-1zM529 506h1v1h-1zM530 506h1v1h-1zM531 506h1v1h-1zM532 505h1v1h-1zM533 505h1v1h-1zM534 505h1v1h-1zM535 505h1v1h-1zM536 504h1v1h-1zM537 504h1v1h-1zM538 504h1v1h-1zM539 504h1v1h-1zM540 504h1v1h-1zM541 504h1v1h-1zM542 504h1v1h-1zM543 504h1v1h-1zM544 504h1v1h-1zM545 504h1v1h-1zM546 504h1v1h-1zM547 504h1v1h-1zM548 504h1v1h-1zM549 504h1v1h-1zM550 504h1v1h-1zM551 505h1v1h-1zM552 505h1v1h-1zM553 505h1v1h-1zM554 505h1v1h-1zM555 505h1v1h-1zM556 506h1v1h-1zM557 506h1v1h-1zM558 507h1v1h-1zM559 507h1v1h-1zM560 507h1v1h-1zM561 508h1v1h-1zM562 508h1v1h-1zM563 508h1v1h-1zM564 508h1v1h-1zM565 508h1v1h-1zM566 508h1v1h-1zM567 508h1v1h-1zM568 508h1v1h-1zM569 508h1v1h-1zM570 508h1v1h-1zM571 508h1v1h-1zM572 508h1v1h-1zM573 508h1v1h-1zM574 508h1v1h-1zM575 508h1v1h-1zM576 507h1v1h-1zM577 507h1v1h-1zM578 507h1v1h-1zM579 507h1v1h-1zM580 507h1v1h-1zM581 506h1v1h-1zM582 506h1v1h-1zM583 506h1v1h-1zM584 505h1v1h-1zM585 505h1v1h-1zM586 504h1v1h-1zM587 504h1v1h-1zM588 504h1v1h-1zM589 503h1v1h-1zM590 503h1v1h-1zM591 503h1v1h-1zM592 502h1v1h-1zM593 502h1v1h-1zM594 502h1v1h-1zM595 501h1v1h-1zM596 501h1v1h-1zM597 500h1v1h-1zM598 500h1v1h-1zM599 500h1v1h-1zM600 499h1v1h-1zM601 499h1v1h-1zM602 498h1v1h-1zM603 498h1v1h-1zM604 498h1v1h-1zM605 497h1v1h-1zM606 497h1v1h-1zM607 497h1v1h-1zM608 496h1v1h-1zM609 496h1v1h-1zM610 496h1v1h-1zM611 496h1v1h-1zM612 496h1v1h-1zM613 496h1v1h-1zM614 496h1v1h-1zM615 496h1v1h-1zM616 496h1v1h-1zM617 496h1v1h-1zM618 496h1v1h-1zM619 496h1v1h-1zM620 496h1v1h-1zM621 496h1v1h-1zM622 496h1v1h-1zM623 496h1v1h-1zM624 497h1v1h-1zM625 497h1v1h-1zM626 497h1v1h-1zM627 498h1v1h-1zM628 498h1v1h-1zM629 498h1v1h-1zM630 498h1v1h-1zM631 499h1v1h-1zM632 499h1v1h-1zM633 499h1v1h-1zM634 500h1v1h-1zM635 500h1v1h-1zM636 500h1v1h-1zM637 501h1v1h-1zM638 501h1v1h-1zM639 502h1v1h-1zM640 503h1v1h-1zM641 503h1v1h-1zM642 504h1v1h-1zM643 504h1v1h-1zM644 505h1v1h-1zM645 505h1v1h-1zM646 505h1v1h-1zM647 506h1v1h-1zM648 506h1v1h-1zM649 506h1v1h-1zM650 507h1v1h-1zM651 508h1v1h-1zM652 508h1v1h-1zM653 509h1v1h-1zM654 509h1v1h-1zM655 510h1v1h-1zM656 511h1v1h-1zM657 511h1v1h-1zM658 512h1v1h-1zM659 513h1v1h-1zM660 513h1v1h-1zM661 514h1v1h-1zM662 514h1v1h-1zM663 515h1v1h-1zM664 516h1v1h-1zM665 517h1v1h-1zM666 518h1v1h-1zM667 519h1v1h-1zM668 520h1v1h-1zM669 520h1v1h-1zM670 521h1v1h-1zM671 522h1v1h-1zM672 522h1v1h-1zM673 523h1v1h-1zM674 524h1v1h-1zM675 524h1v1h-1zM676 525h1v1h-1zM677 526h1v1h-1zM678 526h1v1h-1zM679 527h1v1h-1zM680 528h1v1h-1zM681 529h1v1h-1zM682 529h1v1h-1zM683 530h1v1h-1zM684 530h1v1h-1zM685 531h1v1h-1zM686 531h1v1h-1zM687 532h1v1h-1zM688 532h1v1h-1zM689 533h1v1h-1zM690 533h1v1h-1zM691 533h1v1h-1zM692 534h1v1h-1zM693 534h1v1h-1zM694 535h1v1h-1zM695 535h1v1h-1zM696 536h1v1h-1zM697 536h1v1h-1zM698 537h1v1h-1zM699 537h1v1h-1zM700 537h1v1h-1zM701 538h1v1h-1zM702 538h1v1h-1zM703 538h1v1h-1zM704 539h1v1h-1zM705 539h1v1h-1zM706 539h1v1h-1zM707 540h1v1h-1zM708 540h1v1h-1zM709 540h1v1h-1zM710 540h1v1h-1zM711 540h1v1h-1zM712 540h1v1h-1zM713 540h1v1h-1zM714 540h1v1h-1zM715 540h1v1h-1zM716 540h1v1h-1zM717 540h1v1h-1zM718 541h1v1h-1zM719 541h1v1h-1zM720 541h1v1h-1zM721 541h1v1h-1zM722 541h1v1h-1zM723 541h1v1h-1zM724 542h1v1h-1zM725 542h1v1h-1zM726 542h1v1h-1zM727 542h1v1h-1zM728 543h1v1h-1zM729 543h1v1h-1zM730 543h1v1h-1zM731 543h1v1h-1zM732 544h1v1h-1zM733 544h1v1h-1zM734 544h1v1h-1zM735 544h1v1h-1zM736 545h1v1h-1zM737 545h1v1h-1zM738 545h1v1h-1zM739 546h1v1h-1zM740 546h1v1h-1zM741 546h1v1h-1zM742 546h1v1h-1zM743 546h1v1h-1zM744 546h1v1h-1zM745 547h1v1h-1zM746 547h1v1h-1zM747 547h1v1h-1zM748 547h1v1h-1zM749 547h1v1h-1zM750 547h1v1h-1zM751 547h1v1h-1zM752 547h1v1h-1zM753 547h1v1h-1zM754 547h1v1h-1zM755 547h1v1h-1zM756 547h1v1h-1zM757 547h1v1h-1zM758 547h1v1h-1zM759 547h1v1h-1zM760 547h1v1h-1zM761 547h1v1h-1zM762 546h1v1h-1zM763 546h1v1h-1zM764 546h1v1h-1zM765 545h1v1h-1zM766 545h1v1h-1zM767 545h1v1h-1zM768 545h1v1h-1zM769 544h1v1h-1zM770 544h1v1h-1zM771 544h1v1h-1zM772 544h1v1h-1zM773 544h1v1h-1zM774 544h1v1h-1zM775 544h1v1h-1zM776 543h1v1h-1zM777 543h1v1h-1zM778 543h1v1h-1zM779 543h1v1h-1zM780 543h1v1h-1zM781 543h1v1h-1zM782 543h1v1h-1zM783 543h1v1h-1zM784 543h1v1h-1zM785 543h1v1h-1zM786 543h1v1h-1zM787 544h1v1h-1zM788 544h1v1h-1zM789 544h1v1h-1zM790 544h1v1h-1zM791 545h1v1h-1zM792 545h1v1h-1zM793 545h1v1h-1zM794 545h1v1h-1zM795 546h1v1h-1zM796 546h1v1h-1zM797 546h1v1h-1zM798 546h1v1h-1zM799 547h1v1h-1zM800 547h1v1h-1zM801 548h1v1h-1zM802 548h1v1h-1zM803 548h1v1h-1zM804 549h1v1h-1zM805 549h1v1h-1zM806 550h1v1h-1zM807 550h1v1h-1zM808 550h1v1h-1zM809 550h1v1h-1zM810 551h1v1h-1zM811 551h1v1h-1zM812 551h1v1h-1zM813 551h1v1h-1zM814 551h1v1h-1zM815 551h1v1h-1zM816 552h1v1h-1zM817 552h1v1h-1zM818 552h1v1h-1zM819 552h1v1h-1zM820 552h1v1h-1zM821 551h1v1h-1zM822 551h1v1h-1zM823 551h1v1h-1zM824 551h1v1h-1zM825 550h1v1h-1zM826 550h1v1h-1zM827 550h1v1h-1zM828 550h1v1h-1zM829 549h1v1h-1zM830 549h1v1h-1zM831 549h1v1h-1zM832 548h1v1h-1zM833 548h1v1h-1zM834 547h1v1h-1zM835 547h1v1h-1zM836 546h1v1h-1zM837 546h1v1h-1zM838 545h1v1h-1zM839 545h1v1h-1zM840 544h1v1h-1zM841 544h1v1h-1zM842 544h1v1h-1zM843 543h1v1h-1zM844 543h1v1h-1zM845 542h1v1h-1zM846 542h1v1h-1zM847 541h1v1h-1zM848 541h1v1h-1zM849 541h1v1h-1zM850 540h1v1h-1zM851 540h1v1h-1zM852 539h1v1h-1zM853 539h1v1h-1zM854 539h1v1h-1zM855 538h1v1h-1zM856 538h1v1h-1zM857 537h1v1h-1zM858 537h1v1h-1zM859 536h1v1h-1zM860 535h1v1h-1zM861 535h1v1h-1zM862 534h1v1h-1zM863 533h1v1h-1zM864 533h1v1h-1zM865 532h1v1h-1zM866 531h1v1h-1zM867 531h1v1h-1zM868 530h1v1h-1zM869 529h1v1h-1zM870 528h1v1h-1zM871 528h1v1h-1zM872 527h1v1h-1zM873 526h1v1h-1zM874 525h1v1h-1zM875 524h1v1h-1zM876 523h1v1h-1zM877 522h1v1h-1zM878 521h1v1h-1zM879 520h1v1h-1zM880 519h1v1h-1zM881 518h1v1h-1zM882 517h1v1h-1zM883 516h1v1h-1zM884 515h1v1h-1zM885 514h1v1h-1zM886 514h1v1h-1zM887 513h1v1h-1zM888 512h1v1h-1zM889 511h1v1h-1zM890 510h1v1h-1zM891 509h1v1h-1zM892 509h1v1h-1zM893 508h1v1h-1zM894 507h1v1h-1zM895 507h1v1h-1zM896 506h1v1h-1zM897 506h1v1h-1zM898 505h1v1h-1zM899 505h1v1h-1zM900 505h1v1h-1zM901 504h1v1h-1zM902 504h1v1h-1zM903 504h1v1h-1zM904 504h1v1h-1zM905 503h1v1h-1zM906 503h1v1h-1zM907 503h1v1h-1zM908 503h1v1h-1zM909 503h1v1h-1zM910 503h1v1h-1zM911 503h1v1h-1zM912 503h1v1h-1zM913 503h1v1h-1zM914 503h1v1h-1zM915 503h1v1h-1zM916 503h1v1h-1zM917 503h1v1h-1zM918 503h1v1h-1zM919 503h1v1h-1zM920 503h1v1h-1zM921 503h1v1h-1zM922 503h1v1h-1z"/>
</g>
<g clip-path="url(#c3)">
<line x1="4" x2="1165" y1="601.5" y2="601.5" stroke="#c0c0c0" stroke-width="1" stroke-dasharray="3 3" shape-rendering="crispEdges"/>
<line x1="4" x2="1165" y1="635.5" y2="635.5" stroke="#c0c0c0" stroke-width="1" stroke-dasharray="3 3" shape-rendering="crispEdges"/>
<path shape-rendering="crispEdges" fill="#1e90ff" d="M4 636h1v1h-1zM5 636h1v1h-1zM6 635h1v1h-1zM7 635h1v1h-1zM8 633h1V635h-1zM9 630h1V633h-1zM10 627h1V630h-1zM11 625h1V627h-1zM12 623h1V625h-1zM13 623h1v1h-1zM14 623h1v1h-1zM15 623h1v1h-1zM16 623h1v1h-1zM17 624h1v1h-1zM18 625h1V627h-1zM19 627h1v1h-1zM20 628h1v1h-1zM21 627h1v1h-1zM22 626h1v1h-1zM23 626h1v1h-1zM24 626h1v1h-1zM25 627h1v1h-1zM26 628h1v1h-1zM27 628h1v1h-1zM28 629h1v1h-1zM29 629h1v1h-1zM30 629h1v1h-1zM31 629h1v1h-1zM32 629h1v1h-1zM33 629h1v1h-1zM34 630h1v1h-1zM35 631h1v1h-1zM36 631h1v1h-1zM37 632h1v1h-1zM38 632h1v1h-1zM39 633h1v1h-1zM40 633h1v1h-1zM41 634h1v1h-1zM42 634h1v1h-1zM43 635h1v1h-1zM44 634h1v1h-1zM45 633h1v1h-1zM46 631h1V633h-1zM47 630h1v1h-1zM48 629h1v1h-1zM49 629h1v1h-1zM50 629h1v1h-1zM51 629h1v1h-1zM52 629h1v1h-1zM53 629h1v1h-1zM54 629h1v1h-1zM55 629h1v1h-1zM56 628h1v1h-1zM57 626h1V628h-1zM58 624h1V626h-1zM59 622h1V624h-1zM60 621h1v1h-1zM61 621h1v1h-1zM62 621h1v1h-1zM63 621h1v1h-1zM64 620h1v1h-1zM65 619h1v1h-1zM66 618h1v1h-1zM67 617h1v1h-1zM68 616h1v1h-1zM69 616h1v1h-1zM70 617h1v1h-1zM71 617h1v1h-1zM72 618h1v1h-1zM73 619h1v1h-1zM74 620h1v1h-1zM75 621h1v1h-1zM76 622h1v1h-1zM77 622h1v1h-1zM78 622h1v1h-1zM79 622h1v1h-1zM80 622h1v1h-1zM81 622h1v1h-1zM82 622h1v1h-1zM83 623h1v1h-1zM84 623h1v1h-1zM85 624h1v1h-1zM86 624h1v1h-1zM87 625h1v1h-1zM88 626h1v1h-1zM89 627h1V629h-1zM90 629h1v1h-1zM91 630h1v1h-1zM92 631h1V633h-1zM93 633h1v1h-1zM94 634h1v1h-1zM95 635h1v1h-1zM96 635h1v1h-1zM97 636h1v1h-1zM98 636h1v1h-1zM99 637h1v1h-1zM100 637h1v1h-1zM101 637h1v1h-1zM102 637h1v1h-1zM103 637h1v1h-1zM104 636h1v1h-1zM105 633h1V636h-1zM106 631h1V633h-1zM107 629h1V631h-1zM108 628h1v1h-1zM109 629h1v1h-1zM110 630h1v1h-1zM111 630h1v1h-1zM112 630h1v1h-1zM113 629h1v1h-1zM114 628h1v1h-1zM115 627h1v1h-1zM116 627h1v1h-1zM117 627h1v1h-1zM118 628h1v1h-1zM119 629h1v1h-1zM120 629h1v1h-1zM121 629h1v1h-1zM122 628h1v1h-1zM123 628h1v1h-1zM124 628h1v1h-1zM125 628h1v1h-1zM126 629h1v1h-1zM127 629h1v1h-1zM128 629h1v1h-1zM129 630h1v1h-1zM130 631h1v1h-1zM131 632h1v1h-1zM132 632h1v1h-1zM133 633h1v1h-1zM134 634h1v1h-1zM135 634h1v1h-1zM136 635h1v1h-1zM137 634h1v1h-1zM138 634h1v1h-1zM139 634h1v1h-1zM140 633h1v1h-1zM141 632h1v1h-1zM142 631h1v1h-1zM143 630h1v1h-1zM144 629h1v1h-1zM145 630h1v1h-1zM146 631h1v1h-1zM147 631h1v1h-1zM148 632h1v1h-1zM149 632h1v1h-1zM150 632h1v1h-1zM151 632h1v1h-1zM152 631h1v1h-1zM153 629h1V631h-1zM154 628h1v1h-1zM155 626h1V628h-1zM156 624h1V626h-1zM157 624h1v1h-1zM158 624h1v1h-1zM159 624h1v1h-1zM160 624h1v1h-1zM161 624h1v1h-1zM162 625h1v1h-1zM163 625h1v1h-1zM164 626h1v1h-1zM165 626h1v1h-1zM166 627h1v1h-1zM167 628h1v1h-1zM168 628h1v1h-1zM169 627h1v1h-1zM170 627h1v1h-1zM171 627h1v1h-1zM172 627h1v1h-1zM173 626h1v1h-1zM174 626h1v1h-1zM175 626h1v1h-1zM176 625h1v1h-1zM177 625h1v1h-1zM178 624h1v1h-1zM179 624h1v1h-1zM180 625h1v1h-1zM181 626h1v1h-1zM182 626h1v1h-1zM183 627h1v1h-1zM184 628h1v1h-1zM185 628h1v1h-1zM186 628h1v1h-1zM187 628h1v1h-1zM188 629h1v1h-1zM189 630h1v1h-1zM190 630h1v1h-1zM191 631h1v1h-1zM192 632h1v1h-1zM193 633h1v1h-1zM194 634h1v1h-1zM195 634h1v1h-1zM196 635h1v1h-1zM197 635h1v1h-1zM198 635h1v1h-1zM199 634h1v1h-1zM200 634h1v1h-1zM201 634h1v1h-1zM202 633h1v1h-1zM203 633h1v1h-1zM204 633h1v1h-1zM205 633h1v1h-1zM206 633h1v1h-1zM207 633h1v1h-1zM208 633h1v1h-1zM209 632h1v1h-1zM210 631h1v1h-1zM211 631h1v1h-1zM212 630h1v1h-1zM213 629h1v1h-1zM214 627h1V629h-1zM215 626h1v1h-1zM216 625h1v1h-1zM217 625h1v1h-1zM218 626h1v1h-1zM219 626h1v1h-1zM220 626h1v1h-1zM221 626h1v1h-1zM222 626h1v1h-1zM223 626h1v1h-1zM224 626h1v1h-1zM225 626h1v1h-1zM226 627h1v1h-1zM227 627h1v1h-1zM228 627h1v1h-1zM229 628h1v1h-1zM230 628h1v1h-1zM231 629h1v1h-1zM232 629h1v1h-1zM233 630h1v1h-1zM234 631h1v1h-1zM235 631h1v1h-1zM236 632h1v1h-1zM237 631h1v1h-1zM238 631h1v1h-1zM239 630h1v1h-1zM240 630h1v1h-1zM241 630h1v1h-1zM242 630h1v1h-1zM243 630h1v1h-1zM244 629h1v1h-1zM245 629h1v1h-1zM246 628h1v1h-1zM247 627h1v1h-1zM248 627h1v1h-1zM249 625h1V627h-1zM250 624h1v1h-1zM251 623h1v1h-1zM252 622h1v1h-1zM253 621h1v1h-1zM254 621h1v1h-1zM255 620h1v1h-1zM256 620h1v1h-1zM257 621h1v1h-1zM258 621h1v1h-1zM259 622h1v1h-1zM260 623h1v1h-1zM261 624h1v1h-1zM262 625h1V627h-1zM263 627h1v1h-1zM264 628h1v1h-1zM265 627h1v1h-1zM266 627h1v1h-1zM267 627h1v1h-1zM268 626h1v1h-1zM269 624h1V626h-1zM270 622h1V624h-1zM271 620h1V622h-1zM272 621h1v1h-1zM273 621h1v1h-1zM274 622h1v1h-1zM275 623h1v1h-1zM276 624h1v1h-1zM277 625h1v1h-1zM278 626h1V628h-1zM279 628h1v1h-1zM280 629h1v1h-1zM281 629h1v1h-1zM282 629h1v1h-1zM283 630h1v1h-1zM284 630h1v1h-1zM285 629h1v1h-1zM286 629h1v1h-1zM287 629h1v1h-1zM288 628h1v1h-1zM289 628h1v1h-1zM290 628h1v1h-1zM291 628h1v1h-1zM292 629h1V631h-1zM293 631h1V633h-1zM294 633h1V635h-1zM295 635h1V637h-1zM296 637h1v1h-1zM297 637h1v1h-1zM298 638h1v1h-1zM299 639h1v1h-1zM300 638h1v1h-1zM301 637h1v1h-1zM302 635h1V637h-1zM303 634h1v1h-1zM304 633h1v1h-1zM305 631h1V633h-1zM306 630h1v1h-1zM307 628h1V630h-1zM308 628h1v1h-1zM309 629h1v1h-1zM310 630h1v1h-1zM311 630h1v1h-1zM312 630h1v1h-1zM313 630h1v1h-1zM314 629h1v1h-1zM315 628h1v1h-1zM316 627h1v1h-1zM317 626h1v1h-1zM318 625h1v1h-1zM319 624h1v1h-1zM320 624h1v1h-1zM321 625h1v1h-1zM322 626h1v1h-1zM323 627h1v1h-1zM324 628h1v1h-1zM325 627h1v1h-1zM326 627h1v1h-1zM327 627h1v1h-1zM328 627h1v1h-1zM329 626h1v1h-1zM330 625h1v1h-1zM331 625h1v1h-1zM332 624h1v1h-1zM333 623h1v1h-1zM334 622h1v1h-1zM335 622h1v1h-1zM336 621h1v1h-1zM337 621h1v1h-1zM338 621h1v1h-1zM339 621h1v1h-1zM340 621h1v1h-1zM341 620h1v1h-1zM342 619h1v1h-1zM343 618h1v1h-1zM344 617h1v1h-1zM345 618h1v1h-1zM346 619h1V621h-1zM347 621h1v1h-1zM348 622h1v1h-1zM349 623h1v1h-1zM350 624h1v1h-1zM351 625h1v1h-1zM352 626h1v1h-1zM353 625h1v1h-1zM354 625h1v1h-1zM355 624h1v1h-1zM356 623h1v1h-1zM357 622h1v1h-1zM358 620h1V622h-1zM359 618h1V620h-1zM360 617h1v1h-1zM361 617h1v1h-1zM362 616h1v1h-1zM363 616h1v1h-1zM364 616h1v1h-1zM365 616h1v1h-1zM366 617h1v1h-1zM367 617h1v1h-1zM368 618h1v1h-1zM369 619h1V621h-1zM370 621h1v1h-1zM371 622h1v1h-1zM372 622h1v1h-1zM373 621h1v1h-1zM374 619h1V621h-1zM375 618h1v1h-1zM376 617h1v1h-1zM377 618h1v1h-1zM378 619h1v1h-1zM379 620h1v1h-1zM380 621h1v1h-1zM381 622h1V624h-1zM382 624h1v1h-1zM383 625h1V627h-1zM384 627h1v1h-1zM385 626h1v1h-1zM386 625h1v1h-1zM387 625h1v1h-1zM388 624h1v1h-1zM389 622h1V624h-1zM390 621h1v1h-1zM391 619h1V621h-1zM392 619h1v1h-1zM393 620h1v1h-1zM394 621h1v1h-1zM395 621h1v1h-1zM396 622h1v1h-1zM397 622h1v1h-1zM398 622h1v1h-1zM399 622h1v1h-1zM400 621h1v1h-1zM401 620h1v1h-1zM402 620h1v1h-1zM403 619h1v1h-1zM404 619h1v1h-1zM405 620h1v1h-1zM406 621h1v1h-1zM407 621h1v1h-1zM408 622h1v1h-1zM409 622h1v1h-1zM410 622h1v1h-1zM411 622h1v1h-1zM412 622h1v1h-1zM413 623h1v1h-1zM414 624h1v1h-1zM415 625h1v1h-1zM416 626h1v1h-1zM417 627h1v1h-1zM418 628h1v1h-1zM419 629h1v1h-1zM420 629h1v1h-1zM421 628h1v1h-1zM422 628h1v1h-1zM423 627h1v1h-1zM424 627h1v1h-1zM425 628h1v1h-1zM426 628h1v1h-1zM427 629h1v1h-1zM428 629h1v1h-1zM429 629h1v1h-1zM430 628h1v1h-1zM431 628h1v1h-1zM432 628h1v1h-1zM433 628h1v1h-1zM434 628h1v1h-1zM435 628h1v1h-1zM436 628h1v1h-1zM437 629h1v1h-1zM438 630h1v1h-1zM439 631h1v1h-1zM440 630h1v1h-1zM441 629h1v1h-1zM442 628h1v1h-1zM443 626h1V628h-1zM444 625h1v1h-1zM445 623h1V625h-1zM446 621h1V623h-1zM447 619h1V621h-1zM448 618h1v1h-1zM449 617h1v1h-1zM450 615h1V617h-1zM451 614h1v1h-1zM452 614h1v1h-1zM453 615h1v1h-1zM454 616h1v1h-1zM455 617h1v1h-1zM456 617h1v1h-1zM457 616h1v1h-1zM458 616h1v1h-1zM459 616h1v1h-1zM460 615h1v1h-1zM461 615h1v1h-1zM462 614h1v1h-1zM463 613h1v1h-1zM464 613h1v1h-1zM465 614h1v1h-1zM466 615h1v1h-1zM467 615h1v1h-1zM468 616h1v1h-1zM469 617h1v1h-1zM470 617h1v1h-1zM471 618h1v1h-1zM472 618h1v1h-1zM473 617h1v1h-1zM474 617h1v1h-1zM475 616h1v1h-1zM476 615h1v1h-1zM477 615h1v1h-1zM478 614h1v1h-1zM479 613h1v1h-1zM480 612h1v1h-1zM481 612h1v1h-1zM482 611h1v1h-1zM483 611h1v1h-1zM484 612h1v1h-1zM485 613h1v1h-1zM486 614h1v1h-1zM487 615h1v1h-1zM488 615h1v1h-1zM489 615h1v1h-1zM490 614h1v1h-1zM491 614h1v1h-1zM492 614h1v1h-1zM493 615h1v1h-1zM494 615h1v1h-1zM495 616h1v1h-1zM496 616h1v1h-1zM497 616h1v1h-1zM498 615h1v1h-1zM499 615h1v1h-1zM500 614h1v1h-1zM501 611h1V614h-1zM502 609h1V611h-1zM503 607h1V609h-1zM504 606h1v1h-1zM505 606h1v1h-1zM506 607h1v1h-1zM507 607h1v1h-1zM508 606h1v1h-1zM509 605h1v1h-1zM510 604h1v1h-1zM511 602h1V604h-1zM512 603h1v1h-1zM513 604h1V606h-1zM514 606h1v1h-1zM515 607h1V609h-1zM516 609h1v1h-1zM517 610h1v1h-1zM518 610h1v1h-1zM519 611h1v1h-1zM520 612h1v1h-1zM521 613h1V615h-1zM522 615h1v1h-1zM523 616h1v1h-1zM524 616h1v1h-1zM525 616h1v1h-1zM526 615h1v1h-1zM527 614h1v1h-1zM528 614h1v1h-1zM529 614h1v1h-1zM530 614h1v1h-1zM531 615h1v1h-1zM532 615h1v1h-1zM533 615h1v1h-1zM534 614h1v1h-1zM535 614h1v1h-1zM536 614h1v1h-1zM537 614h1v1h-1zM538 614h1v1h-1zM539 614h1v1h-1zM540 614h1v1h-1zM541 614h1v1h-1zM542 613h1v1h-1zM543 613h1v1h-1zM544 613h1v1h-1zM545 613h1v1h-1zM546 613h1v1h-1zM547 614h1v1h-1zM548 614h1v1h-1zM549 613h1v1h-1zM550 613h1v1h-1zM551 612h1v1h-1zM552 612h1v1h-1zM553 613h1v1h-1zM554 613h1v1h-1zM555 614h1v1h-1zM556 614h1v1h-1zM557 614h1v1h-1zM558 615h1v1h-1zM559 615h1v1h-1zM560 614h1v1h-1zM561 614h1v1h-1zM562 613h1v1h-1zM563 612h1v1h-1zM564 611h1v1h-1zM565 611h1v1h-1zM566 610h1v1h-1zM567 609h1v1h-1zM568 608h1v1h-1zM569 607h1v1h-1zM570 606h1v1h-1zM571 605h1v1h-1zM572 604h1v1h-1zM573 605h1v1h-1zM574 606h1v1h-1zM575 607h1v1h-1zM576 607h1v1h-1zM577 607h1v1h-1zM578 607h1v1h-1zM579 607h1v1h-1zM580 606h1v1h-1zM581 605h1v1h-1zM582 603h1V605h-1zM583 602h1v1h-1zM584 601h1v1h-1zM585 601h1v1h-1zM586 601h1v1h-1zM587 601h1v1h-1zM588 602h1v1h-1zM589 603h1v1h-1zM590 604h1v1h-1zM591 605h1v1h-1zM592 605h1v1h-1zM593 604h1v1h-1zM594 604h1v1h-1zM595 603h1v1h-1zM596 603h1v1h-1zM597 604h1v1h-1zM598 604h1v1h-1zM599 604h1v1h-1zM600 604h1v1h-1zM601 604h1v1h-1zM602 604h1v1h-1zM603 604h1v1h-1zM604 605h1v1h-1zM605 606h1v1h-1zM606 607h1V609h-1zM607 609h1v1h-1zM608 610h1V612h-1zM609 612h1v1h-1zM610 613h1V615h-1zM611 615h1v1h-1zM612 616h1v1h-1zM613 615h1v1h-1zM614 614h1v1h-1zM615 614h1v1h-1zM616 613h1v1h-1zM617 612h1v1h-1zM618 611h1v1h-1zM619 610h1v1h-1zM620 610h1v1h-1zM621 610h1v1h-1zM622 610h1v1h-1zM623 611h1v1h-1zM624 611h1v1h-1zM625 611h1v1h-1zM626 611h1v1h-1zM627 611h1v1h-1zM628 611h1v1h-1zM629 612h1v1h-1zM630 613h1v1h-1zM631 613h1v1h-1zM632 614h1v1h-1zM633 615h1v1h-1zM634 615h1v1h-1zM635 616h1v1h-1zM636 617h1v1h-1zM637 618h1v1h-1zM638 619h1V621h-1zM639 621h1v1h-1zM640 622h1v1h-1zM641 622h1v1h-1zM642 622h1v1h-1zM643 622h1v1h-1zM644 622h1v1h-1zM645 622h1v1h-1zM646 623h1v1h-1zM647 623h1v1h-1zM648 623h1v1h-1zM649 623h1v1h-1zM650 622h1v1h-1zM651 622h1v1h-1zM652 623h1v1h-1zM653 624h1v1h-1zM654 625h1v1h-1zM655 626h1v1h-1zM656 627h1v1h-1zM657 628h1v1h-1zM658 629h1v1h-1zM659 629h1v1h-1zM660 630h1v1h-1zM661 631h1v1h-1zM662 631h1v1h-1zM663 632h1v1h-1zM664 632h1v1h-1zM665 632h1v1h-1zM666 632h1v1h-1zM667 632h1v1h-1zM668 632h1v1h-1zM669 632h1v1h-1zM670 632h1v1h-1zM671 632h1v1h-1zM672 632h1v1h-1zM673 632h1v1h-1zM674 632h1v1h-1zM675 632h1v1h-1zM676 632h1v1h-1zM677 633h1v1h-1zM678 634h1v1h-1zM679 635h1V637h-1zM680 636h1v1h-1zM681 635h1v1h-1zM682 635h1v1h-1zM683 634h1v1h-1zM684 634h1v1h-1zM685 634h1v1h-1zM686 635h1v1h-1zM687 635h1v1h-1zM688 635h1v1h-1zM689 636h1v1h-1zM690 636h1v1h-1zM691 637h1v1h-1zM692 637h1v1h-1zM693 636h1v1h-1zM694 636h1v1h-1zM695 635h1v1h-1zM696 635h1v1h-1zM697 634h1v1h-1zM698 634h1v1h-1zM699 633h1v1h-1zM700 633h1v1h-1zM701 633h1v1h-1zM702 633h1v1h-1zM703 633h1v1h-1zM704 632h1v1h-1zM705 630h1V632h-1zM706 628h1V630h-1zM707 626h1V628h-1zM708 625h1v1h-1zM709 625h1v1h-1zM710 625h1v1h-1zM711 625h1v1h-1zM712 625h1v1h-1zM713 626h1V628h-1zM714 628h1V630h-1zM715 630h1V632h-1zM716 632h1V635h-1zM717 635h1V637h-1zM718 637h1V639h-1zM719 639h1V641h-1zM720 641h1v1h-1zM721 641h1v1h-1zM722 641h1v1h-1zM723 641h1v1h-1zM724 641h1v1h-1zM725 641h1v1h-1zM726 642h1v1h-1zM727 642h1v1h-1zM728 640h1V642h-1zM729 638h1V640h-1zM730 636h1V638h-1zM731 634h1V636h-1zM732 632h1V634h-1zM733 630h1V632h-1zM734 627h1V630h-1zM735 625h1V627h-1zM736 623h1V625h-1zM737 623h1v1h-1zM738 624h1v1h-1zM739 624h1v1h-1zM740 625h1v1h-1zM741 625h1v1h-1zM742 626h1v1h-1zM743 626h1v1h-1zM744 627h1v1h-1zM745 627h1v1h-1zM746 627h1v1h-1zM747 627h1v1h-1zM748 627h1v1h-1zM749 626h1v1h-1zM750 625h1v1h-1zM751 625h1v1h-1zM752 626h1v1h-1zM753 627h1v1h-1zM754 628h1v1h-1zM755 629h1v1h-1zM756 630h1v1h-1zM757 629h1v1h-1zM758 629h1v1h-1zM759 628h1v1h-1zM760 628h1v1h-1zM761 627h1v1h-1zM762 627h1v1h-1zM763 627h1v1h-1zM764 626h1v1h-1zM765 625h1v1h-1zM766 625h1v1h-1zM767 624h1v1h-1zM768 624h1v1h-1zM769 624h1v1h-1zM770 624h1v1h-1zM771 625h1v1h-1zM772 626h1v1h-1zM773 627h1v1h-1zM774 628h1v1h-1zM775 629h1V631h-1zM776 631h1v1h-1zM777 631h1v1h-1zM778 631h1v1h-1zM779 632h1v1h-1zM780 633h1v1h-1zM781 634h1v1h-1zM782 635h1v1h-1zM783 636h1v1h-1zM784 636h1v1h-1zM785 637h1v1h-1zM786 637h1v1h-1zM787 638h1v1h-1zM788 638h1v1h-1zM789 638h1v1h-1zM790 639h1v1h-1zM791 639h1v1h-1zM792 639h1v1h-1zM793 639h1v1h-1zM794 640h1v1h-1zM795 640h1v1h-1zM796 639h1v1h-1zM797 638h1v1h-1zM798 637h1v1h-1zM799 636h1v1h-1zM800 635h1v1h-1zM801 634h1v1h-1zM802 633h1v1h-1zM803 631h1V633h-1zM804 631h1v1h-1zM805 631h1v1h-1zM806 632h1v1h-1zM807 632h1v1h-1zM808 630h1V632h-1zM809 628h1V630h-1zM810 626h1V628h-1zM811 625h1v1h-1zM812 624h1v1h-1zM813 625h1v1h-1zM814 625h1v1h-1zM815 626h1v1h-1zM816 626h1v1h-1zM817 626h1v1h-1zM818 626h1v1h-1zM819 626h1v1h-1zM820 626h1v1h-1zM821 626h1v1h-1zM822 626h1v1h-1zM823 626h1v1h-1zM824 625h1v1h-1zM825 624h1v1h-1zM826 623h1v1h-1zM827 622h1v1h-1zM828 622h1v1h-1zM829 623h1v1h-1zM830 624h1v1h-1zM831 625h1v1h-1zM832 626h1v1h-1zM833 626h1v1h-1zM834 625h1v1h-1zM835 625h1v1h-1zM836 624h1v1h-1zM837 623h1v1h-1zM838 622h1v1h-1zM839 621h1v1h-1zM840 621h1v1h-1zM841 621h1v1h-1zM842 622h1v1h-1zM843 623h1v1h-1zM844 622h1v1h-1zM845 621h1v1h-1zM846 620h1v1h-1zM847 619h1v1h-1zM848 618h1v1h-1zM849 618h1v1h-1zM850 617h1v1h-1zM851 617h1v1h-1zM852 617h1v1h-1zM853 618h1V620h-1zM854 620h1v1h-1zM855 621h1v1h-1zM856 620h1v1h-1zM857 616h1V620h-1zM858 612h1V616h-1zM859 608h1V612h-1zM860 606h1V608h-1zM861 606h1v1h-1zM862 606h1v1h-1zM863 606h1v1h-1zM864 606h1v1h-1zM865 606h1v1h-1zM866 606h1v1h-1zM867 606h1v1h-1zM868 605h1v1h-1zM869 605h1v1h-1zM870 604h1v1h-1zM871 603h1v1h-1zM872 603h1v1h-1zM873 602h1v1h-1zM874 602h1v1h-1zM875 601h1v1h-1zM876 602h1v1h-1zM877 603h1v1h-1zM878 604h1v1h-1zM879 605h1v1h-1zM880 605h1v1h-1zM881 605h1v1h-1zM882 605h1v1h-1zM883 605h1v1h-1zM884 606h1v1h-1zM885 607h1v1h-1zM886 608h1v1h-1zM887 609h1v1h-1zM888 610h1v1h-1zM889 610h1v1h-1zM890 610h1v1h-1zM891 610h1v1h-1zM892 610h1v1h-1zM893 610h1v1h-1zM894 611h1v1h-1zM895 611h1v1h-1zM896 610h1v1h-1zM897 610h1v1h-1zM898 609h1v1h-1zM899 609h1v1h-1zM900 609h1v1h-1zM901 609h1v1h-1zM902 609h1v1h-1zM903 609h1v1h-1zM904 609h1v1h-1zM905 608h1v1h-1zM906 607h1v1h-1zM907 607h1v1h-1zM908 607h1v1h-1zM909 606h1v1h-1zM910 606h1v1h-1zM911 606h1v1h-1zM912 606h1v1h-1zM913 607h1v1h-1zM914 607h1v1h-1zM915 608h1v1h-1zM916 608h1v1h-1zM917 609h1v1h-1zM918 610h1v1h-1zM919 611h1v1h-1zM920 612h1v1h-1zM921 612h1v1h-1zM922 612h1v1h-1z"/>
</g>
</svg>
<div class="tick" style="top:54px"></div><div class="ax" style="top:49px">6.76840</div>
<div class="tick" style="top:88px"></div><div class="ax" style="top:83px">6.73515</div>
<div class="tick" style="top:120px"></div><div class="ax" style="top:115px">6.70285</div>
<div class="tick" style="top:153px"></div><div class="ax" style="top:148px">6.67055</div>
<div class="tick" style="top:186px"></div><div class="ax" style="top:181px">6.63730</div>
<div class="tick" style="top:219px"></div><div class="ax" style="top:214px">6.60500</div>
<div class="tick" style="top:285px"></div><div class="ax" style="top:280px">6.53945</div>
<div class="tick" style="top:318px"></div><div class="ax" style="top:313px">6.50715</div>
<div class="tick" style="top:352px"></div><div class="ax" style="top:347px">6.47390</div>
<div class="tick" style="top:384px"></div><div class="ax" style="top:379px">6.44160</div>
<div class="tick" style="top:418px"></div><div class="ax" style="top:413px">6.40835</div>
<div class="tick" style="top:450px"></div><div class="ax" style="top:445px">6.37605</div>
<div class="tick" style="top:483px"></div><div class="ax" style="top:478px">6.34375</div>
<div class="ax" style="top:490px;left:1169px">0.025609</div>
<div class="ax" style="top:516px;left:1169px">0.00</div>
<div class="ax" style="top:560px;left:1169px">-0.040386</div>
<div class="ax" style="top:576px;left:1169px">100</div>
<div class="ax" style="top:596px;left:1169px">70</div>
<div class="ax" style="top:630px;left:1169px">30</div>
<div class="ax" style="top:649px;left:1169px">0</div>
<div class="tick" style="top:489px;width:2px"></div>
<div class="tick" style="top:521px;width:2px"></div>
<div class="tick" style="top:571px;width:2px"></div>
<div class="tick" style="top:575px;width:2px"></div>
<div class="tick" style="top:601px;width:2px"></div>
<div class="tick" style="top:635px;width:2px"></div>
<div class="tick" style="top:660px;width:2px"></div>
<div class="lbl" style="top:245px;background:#f00">6.57314</div>
<div class="lbl" style="top:304px;background:#f00">6.51483</div>
<div class="lbl" style="top:358px;background:#000">6.46194</div>
<div class="lbl" style="top:369px;background:#0f0">6.45059</div>
<div class="lbl" style="top:420px;background:#00f">6.40019</div>
<div class="lbl" style="top:470px;background:#00f">6.35078</div>
<div class="dtick" style="left:3px"></div><div class="dt" style="left:2px">9 Oct 2020</div>
<div class="dtick" style="left:67px"></div><div class="dt" style="left:66px">28 Oct 2020</div>
<div class="dtick" style="left:131px"></div><div class="dt" style="left:130px">16 Nov 2020</div>
<div class="dtick" style="left:195px"></div><div class="dt" style="left:194px">4 Dec 2020</div>
<div class="dtick" style="left:259px"></div><div class="dt" style="left:258px">23 Dec 2020</div>
<div class="dtick" style="left:323px"></div><div class="dt" style="left:322px">12 Jan 2021</div>
<div class="dtick" style="left:387px"></div><div class="dt" style="left:386px">30 Jan 2021</div>
<div class="dtick" style="left:451px"></div><div class="dt" style="left:450px">18 Feb 2021</div>
<div class="dtick" style="left:515px"></div><div class="dt" style="left:514px">9 Mar 2021</div>
<div class="dtick" style="left:579px"></div><div class="dt" style="left:578px">27 Mar 2021</div>
<div class="dtick" style="left:643px"></div><div class="dt" style="left:642px">15 Apr 2021</div>
<div class="dtick" style="left:707px"></div><div class="dt" style="left:706px">4 May 2021</div>
<div class="dtick" style="left:771px"></div><div class="dt" style="left:770px">22 May 2021</div>
<div class="dtick" style="left:835px"></div><div class="dt" style="left:834px">10 Jun 2021</div>
<div class="dtick" style="left:899px"></div><div class="dt" style="left:898px">29 Jun 2021</div>
<div class="a" style="left:6px;top:33px;width:0;height:0;border-left:3.5px solid transparent;border-right:3.5px solid transparent;border-bottom:4px solid #000"></div>
<div class="t" style="left:19px;top:29px;font-size:10px;letter-spacing:-0.3px" id="ttl">USDCNH,Daily&nbsp; 6.46246 6.46397 6.46031 6.46194</div>
<div class="t" style="left:7px;top:492px;font-size:10px;letter-spacing:-0.3px" id="macdt">MACD(12,26,9) 0.012691 0.014551</div>
<div class="t" style="left:7px;top:578px;font-size:10px;letter-spacing:-0.3px" id="rsit">RSI(14) 56.5235</div>
<div class="a" style="left:4px;top:44px;width:223px;height:61px;background:#fff"></div>
<div class="a" style="left:6px;top:46px;width:52px;height:25px;background:linear-gradient(#fa5454,#de3232);border:1px solid #b40000;border-bottom:none"></div>
<div class="a" style="left:173px;top:46px;width:52px;height:25px;background:linear-gradient(#fa5454,#de3232);border:1px solid #b40000;border-bottom:none"></div>
<div class="a" style="left:6px;top:70px;width:109px;height:33px;background:linear-gradient(#d82626,#a60000);border:1px solid #b00000;border-top:none"></div>
<div class="a" style="left:117px;top:70px;width:108px;height:33px;background:linear-gradient(#d82626,#a60000);border:1px solid #b00000;border-top:none"></div>
<div class="a" style="left:58px;top:70px;width:57px;height:1px;background:#b00000"></div>
<div class="a" style="left:117px;top:70px;width:57px;height:1px;background:#b00000"></div>
<div class="a" style="left:10px;top:69px;width:44px;height:1px;background:#8c0000"></div>
<div class="a" style="left:10px;top:70px;width:44px;height:1px;background:#f47878"></div>
<div class="a" style="left:177px;top:69px;width:44px;height:1px;background:#8c0000"></div>
<div class="a" style="left:177px;top:70px;width:44px;height:1px;background:#f47878"></div>
<div class="a" style="left:60px;top:46px;width:112px;height:22px;background:#fff;border:1px solid #a8a8a8"></div>
<div class="a" style="left:61px;top:47px;width:21px;height:20px;background:linear-gradient(#ececec 0%,#e0e0e0 48%,#cfcfcf 52%,#c8c8c8 100%);border:1px solid #f4f4f4;border-right:1px solid #b0b0b0"></div>
<div class="a" style="left:150px;top:47px;width:21px;height:20px;background:linear-gradient(#ececec 0%,#e0e0e0 48%,#cfcfcf 52%,#c8c8c8 100%);border:1px solid #f4f4f4;border-left:1px solid #b0b0b0"></div>
<div class="a" style="left:68px;top:56px;width:0;height:0;border-left:3px solid transparent;border-right:3px solid transparent;border-top:3px solid #4a5fc0"></div>
<div class="a" style="left:157px;top:55px;width:0;height:0;border-left:3px solid transparent;border-right:3px solid transparent;border-bottom:3px solid #4a5fc0"></div>
<div class="t" style="left:122px;top:50px;font-size:12px;line-height:14px;height:14px" id="vol">3.00</div>
<div class="t" style="left:18px;top:50px;font-size:11.4px;letter-spacing:-0.4px;line-height:14px;height:14px;color:#fff" id="sell">SELL</div>
<div class="t" style="left:186.5px;top:50px;font-size:11.4px;letter-spacing:-0.2px;line-height:14px;height:14px;color:#fff" id="buy">BUY</div>
<div class="t" style="left:26px;top:86px;font-size:12px;font-weight:bold;line-height:14px;height:14px;color:#fff" id="s1">6.46</div>
<div class="t" style="left:54px;top:66px;font-size:33px;letter-spacing:-1px;line-height:40px;height:40px;color:#fff" id="s2">19</div>
<div class="t" style="left:93px;top:71px;font-size:12px;font-weight:bold;line-height:14px;height:14px;color:#fff" id="s3">7</div>
<div class="t" style="left:136px;top:86px;font-size:12px;font-weight:bold;line-height:14px;height:14px;color:#fff" id="b1">6.46</div>
<div class="t" style="left:165px;top:66px;font-size:33px;letter-spacing:-1px;line-height:40px;height:40px;color:#fff" id="b2">51</div>
<div class="t" style="left:204px;top:71px;font-size:12px;font-weight:bold;line-height:14px;height:14px;color:#fff" id="b3">7</div>

<div class="a" style="left:0;top:683px;width:1207px;height:1px;background:#e3e3e3"></div>
<div class="a" style="left:0;top:684px;width:1207px;height:1px;background:#000"></div>
<div class="a" style="left:0;top:685px;width:1207px;height:19px;background:#f0f0f0"></div>
<div class="a" style="left:0;top:707px;width:1207px;height:2px;background:#a0a0a0"></div>
<div class="a" style="left:0;top:709px;width:1207px;height:1px;background:#e0e0e0"></div>
<div class="a" style="left:380px;top:684px;width:104px;height:19px;background:#fff;border:1px solid #000;border-top:none;box-shadow:1px 1px 0 #888"></div>
<div class="tab" style="left:16.5px;letter-spacing:-0.32px">EURUSD,H4</div>
<div class="tab" style="left:106px;letter-spacing:-0.03px">AUDUSD,Daily</div>
<div class="tab" style="left:210px;letter-spacing:-0.19px">USDCHF,H4</div>
<div class="tab" style="left:299px;letter-spacing:-0.23px">USDCAD,H4</div>
<div class="tab" style="left:390px;letter-spacing:-0.05px;color:#000">USDCNH,Daily</div>
<div class="tab" style="left:496px;letter-spacing:0.13px">UKOil,H4</div>
<div class="tab" style="left:570px;letter-spacing:-0.15px">DJ30,H1</div>
<div class="tab" style="left:640px;letter-spacing:-0.26px">USDX,H1</div>
<div class="tab" style="left:715px;letter-spacing:-0.15px">XAUUSD,H4</div>
<div class="tab" style="left:808px;letter-spacing:-0.16px">GBPUSD,Daily</div>
<div class="sep" style="left:96px"></div>
<div class="sep" style="left:200px"></div>
<div class="sep" style="left:289px"></div>
<div class="sep" style="left:560px"></div>
<div class="sep" style="left:628px"></div>
<div class="sep" style="left:704px"></div>
<div class="sep" style="left:796px"></div>
<div class="sep" style="left:900px"></div>
<div class="a" style="left:1180.5px;top:689.5px;width:0;height:0;border-top:3.5px solid transparent;border-bottom:3.5px solid transparent;border-right:3.5px solid #8a8a8a"></div>
<div class="a" style="left:1199.5px;top:689.5px;width:0;height:0;border-top:3.5px solid transparent;border-bottom:3.5px solid transparent;border-left:3.5px solid #8a8a8a"></div>
</body></html>
